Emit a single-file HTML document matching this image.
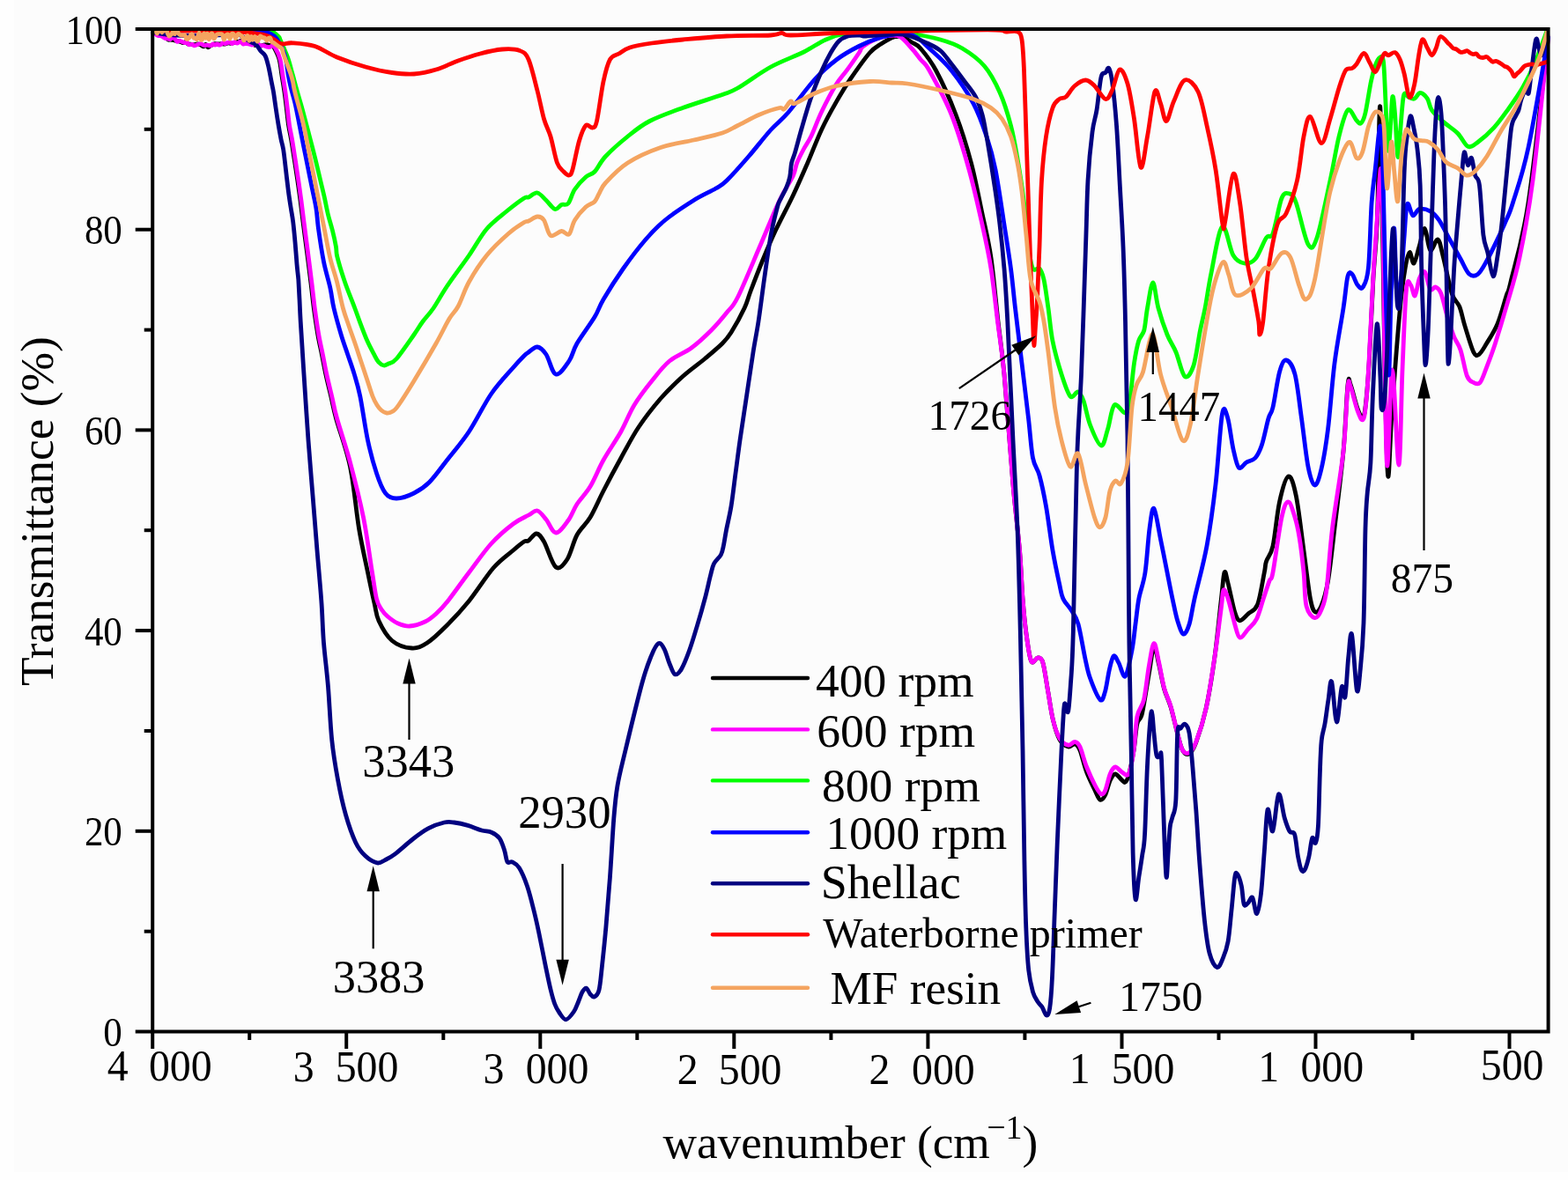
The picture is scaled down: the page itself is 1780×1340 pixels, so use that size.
<!DOCTYPE html><html><head><meta charset="utf-8"><title>FTIR spectra</title><style>html,body{margin:0;padding:0;background:#fefefe;overflow:hidden;}svg{display:block;}text{font-family:"Liberation Serif", "Times New Roman", serif;fill:#000;}</style></head><body>
<svg width="1780" height="1340" viewBox="0 0 1780 1340">
<rect x="0" y="0" width="1780" height="1340" fill="#fefefe"/>
<rect x="16" y="0" width="1764" height="1331" fill="#fcfcfc"/>
<defs><clipPath id="pc"><rect x="171" y="31.2" width="1589" height="1142"/></clipPath></defs><g clip-path="url(#pc)">
<path class="c" d="M173.0,37.0 C173.5,37.0 175.0,36.8 176.0,37.0 C177.0,37.2 178.0,37.9 179.1,38.5 C180.2,39.1 181.4,40.5 182.3,40.6 C183.2,40.7 183.5,38.8 184.5,38.9 C185.5,39.0 187.1,40.1 188.1,41.1 C189.1,42.1 189.7,44.2 190.6,44.9 C191.5,45.6 192.6,45.1 193.6,45.2 C194.6,45.3 195.6,45.2 196.5,45.4 C197.4,45.6 197.9,46.0 198.9,46.2 C199.9,46.4 201.4,46.3 202.6,46.6 C203.8,46.9 205.1,47.5 206.0,47.9 C206.9,48.2 207.3,48.8 208.2,48.7 C209.1,48.6 210.5,47.3 211.4,47.5 C212.3,47.7 212.7,49.7 213.5,50.1 C214.3,50.5 215.4,50.0 216.5,50.1 C217.6,50.2 219.0,50.8 220.2,50.8 C221.4,50.8 222.7,50.0 223.9,50.0 C225.1,50.0 226.3,50.2 227.5,50.7 C228.7,51.2 230.2,53.0 231.2,52.9 C232.2,52.8 232.7,50.1 233.5,50.3 C234.3,50.4 235.1,53.5 236.0,53.8 C236.9,54.1 238.0,52.4 238.9,51.9 C239.8,51.4 240.6,51.3 241.5,50.9 C242.4,50.5 243.3,49.9 244.3,49.7 C245.3,49.6 246.3,50.0 247.5,50.0 C248.7,50.0 249.9,49.7 251.2,49.7 C252.4,49.7 253.7,50.1 255.0,50.0 C256.3,49.9 257.8,49.0 258.9,48.9 C259.9,48.8 260.3,49.4 261.3,49.4 C262.3,49.4 264.0,49.1 265.1,48.8 C266.2,48.5 267.3,47.6 268.2,47.4 C269.1,47.2 269.8,47.6 270.7,47.4 C271.6,47.2 272.9,46.0 273.8,46.3 C274.7,46.6 275.0,49.1 276.0,49.4 C277.0,49.7 278.6,47.9 279.9,47.9 C281.1,47.9 282.5,49.4 283.5,49.6 C284.5,49.8 284.8,48.9 285.8,49.2 C286.8,49.5 288.4,51.3 289.3,51.5 C290.2,51.7 290.8,50.6 291.5,50.5 C292.2,50.4 292.9,50.8 293.7,51.1 C294.5,51.4 295.3,52.1 296.4,52.1 C297.5,52.1 298.9,51.1 300.2,50.9 C301.5,50.7 303.1,50.6 304.1,50.8 C305.1,51.0 305.7,52.3 306.4,52.3 C307.1,52.3 307.7,50.7 308.5,51.0 C309.3,51.3 310.0,51.6 311.4,54.3 C312.8,57.0 315.6,62.0 317.0,67.3 C318.4,72.6 319.0,79.7 320.0,86.0 C321.0,92.3 322.1,98.5 323.0,105.0 C323.9,111.5 324.8,118.8 325.5,125.0 C326.2,131.2 326.7,136.5 327.5,142.0 C328.3,147.5 329.4,151.7 330.5,158.0 C331.6,164.3 332.8,172.5 334.0,180.0 C335.2,187.5 336.3,195.0 337.5,203.0 C338.7,211.0 339.9,219.8 341.0,228.0 C342.1,236.2 343.0,244.2 344.0,252.0 C345.0,259.8 346.0,267.3 347.0,275.0 C348.0,282.7 349.0,290.2 350.0,298.0 C351.0,305.8 351.9,313.3 353.0,322.0 C354.1,330.7 355.0,340.3 356.3,350.0 C357.6,359.7 359.3,371.3 360.8,380.0 C362.3,388.7 363.8,394.8 365.3,402.2 C366.8,409.6 368.0,416.6 369.7,424.6 C371.4,432.6 373.7,441.6 375.7,450.0 C377.7,458.4 377.9,461.7 381.5,475.0 C385.1,488.3 393.2,509.2 397.5,530.0 C401.8,550.8 404.2,580.0 407.5,600.0 C410.8,620.0 414.6,635.8 417.5,650.0 C420.4,664.2 422.9,675.8 425.0,685.0 C427.1,694.2 426.7,697.9 430.0,705.0 C433.3,712.1 438.8,722.3 445.0,727.5 C451.2,732.7 460.8,735.6 467.5,736.0 C474.2,736.4 478.3,734.3 485.0,730.0 C491.7,725.7 499.7,717.8 507.5,710.0 C515.3,702.2 523.2,693.8 532.0,683.0 C540.8,672.2 551.6,654.7 560.0,645.0 C568.4,635.3 576.7,630.0 582.5,625.0 C588.3,620.0 592.1,616.8 595.0,615.0 C597.9,613.2 597.7,615.5 600.0,614.0 C602.3,612.5 606.1,605.8 609.0,606.0 C611.9,606.2 613.8,608.7 617.5,615.0 C621.2,621.3 626.6,640.7 631.0,644.0 C635.4,647.3 640.0,641.1 644.0,635.0 C648.0,628.9 650.7,615.4 655.0,607.5 C659.3,599.6 665.0,595.8 670.0,587.5 C675.0,579.2 679.2,568.8 685.0,557.5 C690.8,546.2 698.3,532.1 705.0,520.0 C711.7,507.9 717.5,496.2 725.0,485.0 C732.5,473.8 741.7,462.1 750.0,452.5 C758.3,442.9 766.7,435.0 775.0,427.5 C783.3,420.0 792.5,413.8 800.0,407.5 C807.5,401.2 815.0,395.0 820.0,390.0 C825.0,385.0 825.8,384.2 830.0,377.5 C834.2,370.8 841.3,357.9 845.0,350.0 C848.7,342.1 848.8,339.2 852.3,330.0 C855.8,320.8 861.3,306.4 866.0,295.0 C870.7,283.6 874.7,273.9 880.5,261.6 C886.3,249.3 894.6,234.1 900.6,221.3 C906.6,208.5 911.4,197.4 916.8,185.0 C922.2,172.6 927.5,158.1 932.9,146.7 C938.3,135.3 943.6,125.8 949.0,116.4 C954.4,107.0 958.7,99.6 965.1,90.2 C971.5,80.8 981.5,66.7 987.3,60.0 C993.1,53.3 995.4,53.0 1000.0,50.0 C1004.6,47.0 1010.8,43.3 1015.0,42.0 C1019.2,40.7 1021.7,41.0 1025.0,42.0 C1028.3,43.0 1031.7,45.8 1035.0,48.0 C1038.3,50.2 1040.4,49.7 1045.0,55.0 C1049.6,60.3 1055.8,67.5 1062.5,80.0 C1069.2,92.5 1078.3,112.5 1085.0,130.0 C1091.7,147.5 1097.5,166.2 1102.5,185.0 C1107.5,203.8 1111.2,224.6 1115.0,242.5 C1118.8,260.4 1122.0,272.1 1125.0,292.5 C1128.0,312.9 1130.5,342.9 1133.0,365.0 C1135.5,387.1 1137.2,394.2 1140.0,425.0 C1142.8,455.8 1147.1,516.7 1150.0,550.0 C1152.9,583.3 1155.7,603.3 1157.5,625.0 C1159.3,646.7 1159.8,664.5 1161.0,680.0 C1162.2,695.5 1163.2,706.2 1164.8,718.0 C1166.4,729.8 1168.4,745.9 1170.6,750.7 C1172.8,755.5 1176.0,746.6 1178.2,746.9 C1180.4,747.2 1182.0,746.2 1183.9,752.6 C1185.8,759.0 1187.8,774.3 1189.7,785.1 C1191.6,795.9 1193.2,808.4 1195.4,817.5 C1197.6,826.6 1200.1,834.9 1203.0,840.0 C1205.9,845.1 1209.7,847.2 1212.6,848.0 C1215.5,848.8 1218.0,844.3 1220.2,845.0 C1222.4,845.7 1223.8,846.7 1226.0,852.0 C1228.2,857.3 1230.7,869.3 1233.6,877.0 C1236.5,884.7 1240.7,892.8 1243.2,898.0 C1245.8,903.2 1247.0,907.5 1248.9,908.3 C1250.8,909.1 1252.7,906.7 1254.6,903.0 C1256.5,899.3 1258.4,890.0 1260.3,886.0 C1262.2,882.0 1263.9,879.0 1266.1,879.0 C1268.3,879.0 1271.8,884.5 1273.7,886.0 C1275.6,887.5 1276.2,889.2 1277.5,888.2 C1278.8,887.2 1279.8,886.0 1281.4,880.0 C1283.0,874.0 1285.5,861.6 1287.1,851.9 C1288.7,842.2 1289.3,829.0 1290.9,822.0 C1292.5,815.0 1294.4,819.4 1296.6,809.9 C1298.8,800.4 1302.1,777.5 1304.3,765.0 C1306.5,752.5 1308.1,736.7 1310.0,735.0 C1311.9,733.3 1313.8,747.2 1315.7,755.0 C1317.6,762.8 1319.3,774.0 1321.5,782.0 C1323.7,790.0 1326.6,794.5 1329.1,803.0 C1331.6,811.5 1334.5,824.8 1336.7,833.0 C1338.9,841.2 1340.3,848.2 1342.5,852.0 C1344.7,855.8 1347.5,857.5 1350.1,856.0 C1352.6,854.5 1354.6,851.7 1357.8,843.0 C1361.0,834.3 1365.7,820.0 1369.2,804.0 C1372.7,788.0 1375.9,767.7 1378.8,747.0 C1381.7,726.3 1384.5,696.2 1386.4,680.0 C1388.3,663.8 1388.7,653.0 1390.0,650.0 C1391.3,647.0 1392.0,654.5 1394.0,662.0 C1396.0,669.5 1399.5,687.9 1401.7,695.0 C1403.9,702.1 1404.9,704.5 1407.4,704.8 C1410.0,705.1 1413.6,700.1 1417.0,697.0 C1420.4,693.9 1424.5,694.1 1427.6,686.3 C1430.6,678.5 1433.6,658.1 1435.3,650.0 C1437.0,641.9 1435.9,642.5 1437.5,637.5 C1439.1,632.5 1442.5,631.2 1445.0,620.0 C1447.5,608.8 1449.6,583.2 1452.5,570.0 C1455.4,556.8 1459.4,542.2 1462.5,541.0 C1465.6,539.8 1468.3,548.5 1471.2,562.5 C1474.2,576.5 1477.3,605.4 1480.0,625.0 C1482.7,644.6 1485.3,668.3 1487.5,680.0 C1489.7,691.7 1490.9,693.7 1493.0,695.0 C1495.1,696.3 1497.6,693.8 1500.0,688.0 C1502.4,682.2 1505.0,674.7 1507.5,660.0 C1510.0,645.3 1512.1,624.6 1515.0,600.0 C1517.9,575.4 1522.5,539.7 1525.0,512.5 C1527.5,485.3 1528.6,449.6 1530.0,437.0 C1531.4,424.4 1531.4,432.5 1533.2,437.0 C1535.0,441.5 1538.8,457.8 1541.1,464.0 C1543.4,470.2 1545.4,475.0 1547.0,474.0 C1548.6,473.0 1549.3,468.7 1550.5,458.0 C1551.7,447.3 1552.9,433.5 1554.3,410.0 C1555.7,386.5 1557.4,344.0 1558.9,317.0 C1560.4,290.0 1562.2,280.0 1563.5,248.0 C1564.8,216.0 1565.6,96.3 1567.0,125.0 C1568.4,153.7 1570.6,350.8 1572.0,420.0 C1573.4,489.2 1574.3,532.0 1575.6,540.3 C1576.9,548.6 1577.8,501.2 1580.0,470.0 C1582.2,438.8 1586.5,380.8 1589.1,353.1 C1591.6,325.4 1593.4,315.0 1595.3,303.9 C1597.2,292.8 1598.6,287.4 1600.2,286.6 C1601.8,285.8 1603.2,300.2 1605.1,299.0 C1606.9,297.8 1609.2,285.8 1611.3,279.2 C1613.3,272.6 1615.4,258.7 1617.4,259.5 C1619.5,260.3 1621.1,282.1 1623.6,284.2 C1626.1,286.3 1629.8,270.7 1632.2,271.9 C1634.7,273.1 1635.6,281.4 1638.3,291.6 C1641.0,301.9 1645.1,324.0 1648.2,333.4 C1651.3,342.8 1654.3,342.0 1656.8,348.2 C1659.3,354.4 1660.3,361.8 1663.0,370.4 C1665.7,379.0 1670.1,394.6 1672.8,399.9 C1675.5,405.2 1676.5,404.0 1679.0,402.4 C1681.5,400.8 1684.1,395.8 1687.6,390.0 C1691.1,384.2 1696.2,376.9 1699.9,367.9 C1703.6,358.9 1707.5,343.9 1710.0,335.9 C1712.5,327.9 1710.8,337.6 1715.0,320.0 C1719.2,302.4 1727.9,276.2 1735.0,230.0 C1742.1,183.8 1753.8,73.8 1757.5,42.5" fill="none" stroke="#000000" stroke-width="4.8" stroke-linejoin="round" stroke-linecap="round"/>
<path class="c" d="M173.0,37.0 C173.5,37.2 174.9,37.9 176.0,38.5 C177.1,39.1 178.2,40.0 179.4,40.4 C180.6,40.8 181.9,40.5 183.2,41.0 C184.5,41.5 185.9,42.9 187.0,43.4 C188.1,43.9 188.9,43.8 189.9,44.0 C190.9,44.2 192.3,44.8 193.2,44.6 C194.1,44.4 194.7,43.1 195.5,43.0 C196.3,42.9 197.1,43.0 198.0,43.7 C198.9,44.4 200.2,46.8 201.2,47.3 C202.1,47.8 202.7,46.3 203.7,46.4 C204.7,46.5 206.4,47.4 207.4,47.8 C208.4,48.2 209.0,48.7 209.8,48.7 C210.6,48.8 211.4,47.8 212.2,48.1 C213.0,48.5 213.5,50.4 214.5,50.8 C215.5,51.2 217.2,50.1 218.2,50.3 C219.2,50.5 219.6,51.9 220.6,51.9 C221.6,51.9 223.1,50.9 224.3,50.5 C225.6,50.1 226.9,49.5 228.1,49.7 C229.3,49.9 230.3,51.3 231.5,51.5 C232.7,51.7 234.0,51.0 235.3,51.1 C236.6,51.2 238.0,52.1 239.1,51.9 C240.2,51.7 240.9,50.1 241.7,50.0 C242.5,49.9 243.3,51.0 244.1,51.0 C244.9,51.0 245.4,49.8 246.3,49.8 C247.2,49.8 248.4,51.4 249.5,51.2 C250.6,51.0 251.9,49.1 252.9,48.8 C253.9,48.5 254.6,49.6 255.5,49.5 C256.4,49.4 257.5,48.6 258.5,48.4 C259.5,48.2 260.5,48.0 261.4,48.2 C262.2,48.4 262.9,49.6 263.6,49.6 C264.3,49.6 264.8,48.1 265.8,48.0 C266.8,47.9 268.2,49.2 269.4,49.1 C270.6,49.0 271.8,47.1 272.9,47.2 C274.0,47.4 275.2,49.6 276.1,50.0 C277.0,50.4 277.3,49.4 278.3,49.4 C279.3,49.4 280.9,49.6 282.1,49.9 C283.3,50.2 284.3,51.0 285.5,51.0 C286.7,51.0 288.2,50.1 289.3,49.8 C290.4,49.5 291.1,49.0 292.1,49.3 C293.2,49.6 294.5,51.4 295.6,51.8 C296.8,52.2 297.8,51.4 299.0,51.6 C300.2,51.8 301.4,52.8 302.7,53.1 C303.9,53.4 305.4,53.6 306.5,53.4 C307.6,53.2 308.2,51.9 309.2,52.0 C310.2,52.1 310.9,51.8 312.4,54.3 C313.9,56.8 316.6,62.0 318.0,67.3 C319.4,72.6 320.0,79.7 321.0,86.0 C322.0,92.3 323.1,98.5 324.0,105.0 C324.9,111.5 325.8,118.8 326.5,125.0 C327.2,131.2 327.7,136.5 328.5,142.0 C329.3,147.5 330.4,151.7 331.5,158.0 C332.6,164.3 333.8,172.5 335.0,180.0 C336.2,187.5 337.3,195.0 338.5,203.0 C339.7,211.0 340.9,219.8 342.0,228.0 C343.1,236.2 344.0,244.2 345.0,252.0 C346.0,259.8 347.0,267.3 348.0,275.0 C349.0,282.7 350.0,290.2 351.0,298.0 C352.0,305.8 352.9,313.3 354.0,322.0 C355.1,330.7 356.0,340.3 357.3,350.0 C358.6,359.7 360.3,371.3 361.8,380.0 C363.3,388.7 364.8,394.8 366.3,402.2 C367.8,409.6 369.0,416.6 370.7,424.6 C372.4,432.6 374.7,441.6 376.7,450.0 C378.7,458.4 379.0,462.5 382.5,475.0 C386.0,487.5 392.5,506.2 397.5,525.0 C402.5,543.8 408.3,566.7 412.5,587.5 C416.7,608.3 420.0,634.6 422.5,650.0 C425.0,665.4 425.8,673.0 427.5,680.0 C429.2,687.0 430.9,688.7 433.0,692.0 C435.1,695.3 436.8,697.3 440.0,700.0 C443.2,702.7 447.8,706.2 452.0,708.0 C456.2,709.8 459.9,711.3 465.0,711.0 C470.1,710.7 477.5,708.3 482.5,706.0 C487.5,703.7 490.8,700.8 495.0,697.0 C499.2,693.2 501.8,690.8 508.0,683.0 C514.2,675.2 524.2,660.9 532.5,650.0 C540.8,639.1 549.2,626.7 557.5,617.5 C565.8,608.3 575.4,600.4 582.5,595.0 C589.6,589.6 595.4,587.5 600.0,585.0 C604.6,582.5 606.7,579.2 610.0,580.0 C613.3,580.8 616.5,585.8 620.0,590.0 C623.5,594.2 626.8,604.8 631.0,605.0 C635.2,605.2 641.0,596.4 645.0,591.0 C649.0,585.6 650.8,578.9 655.0,572.5 C659.2,566.1 665.0,560.8 670.0,552.5 C675.0,544.2 679.2,532.9 685.0,522.5 C690.8,512.1 699.2,500.4 705.0,490.0 C710.8,479.6 714.2,469.6 720.0,460.0 C725.8,450.4 733.3,440.8 740.0,432.5 C746.7,424.2 752.5,416.2 760.0,410.0 C767.5,403.8 777.1,400.8 785.0,395.0 C792.9,389.2 800.8,381.7 807.5,375.0 C814.2,368.3 820.0,361.2 825.0,355.0 C830.0,348.8 831.2,350.0 837.5,337.5 C843.8,325.0 855.3,296.7 862.5,280.0 C869.7,263.3 875.9,247.7 880.5,237.4 C885.1,227.1 886.6,224.4 890.0,218.0 C893.4,211.6 898.1,204.5 900.6,199.0 C903.1,193.5 902.8,189.8 904.7,185.0 C906.6,180.2 909.3,175.1 912.0,170.0 C914.7,164.9 917.3,161.9 920.8,154.7 C924.3,147.4 928.2,136.2 932.9,126.5 C937.6,116.8 944.3,104.0 949.0,96.3 C953.7,88.6 956.7,86.2 961.1,80.2 C965.5,74.2 972.1,64.6 975.2,60.0 C978.4,55.4 975.9,55.4 980.0,52.5 C984.1,49.6 993.3,44.4 1000.0,42.5 C1006.7,40.6 1014.2,38.9 1020.0,41.0 C1025.8,43.1 1030.8,50.6 1035.0,55.0 C1039.2,59.4 1041.7,63.3 1045.0,67.5 C1048.3,71.7 1049.2,69.6 1055.0,80.0 C1060.8,90.4 1072.5,111.2 1080.0,130.0 C1087.5,148.8 1094.2,171.7 1100.0,192.5 C1105.8,213.3 1110.8,236.2 1115.0,255.0 C1119.2,273.8 1122.1,286.7 1125.0,305.0 C1127.9,323.3 1130.0,345.0 1132.5,365.0 C1135.0,385.0 1137.1,394.2 1140.0,425.0 C1142.9,455.8 1147.1,516.7 1150.0,550.0 C1152.9,583.3 1155.7,603.3 1157.5,625.0 C1159.3,646.7 1159.8,664.5 1161.0,680.0 C1162.2,695.5 1163.2,706.4 1164.8,718.2 C1166.4,730.0 1168.4,745.9 1170.6,750.7 C1172.8,755.5 1176.0,746.6 1178.2,746.9 C1180.4,747.2 1182.0,746.2 1183.9,752.6 C1185.8,759.0 1187.8,774.3 1189.7,785.1 C1191.6,795.9 1193.2,808.6 1195.4,817.5 C1197.6,826.4 1200.1,833.8 1203.0,838.6 C1205.9,843.4 1209.7,845.6 1212.6,846.2 C1215.5,846.8 1218.0,842.1 1220.2,842.4 C1222.4,842.7 1223.8,843.3 1226.0,848.1 C1228.2,852.9 1230.7,863.7 1233.6,871.0 C1236.5,878.3 1240.5,886.9 1243.2,892.0 C1245.9,897.1 1247.9,900.6 1249.8,901.6 C1251.7,902.6 1252.8,901.6 1254.6,897.8 C1256.3,894.0 1258.4,883.2 1260.3,878.7 C1262.2,874.2 1263.9,871.3 1266.1,871.0 C1268.3,870.7 1271.2,875.5 1273.7,876.8 C1276.2,878.1 1279.2,882.9 1281.4,878.7 C1283.6,874.6 1285.5,862.7 1287.1,851.9 C1288.7,841.1 1289.0,823.2 1290.9,813.7 C1292.8,804.2 1296.3,804.2 1298.5,794.6 C1300.7,785.0 1302.4,767.1 1304.3,756.4 C1306.2,745.7 1308.1,731.2 1310.0,730.6 C1311.9,730.0 1313.8,744.2 1315.7,752.6 C1317.6,761.0 1319.3,772.9 1321.5,781.2 C1323.7,789.5 1326.6,793.7 1329.1,802.3 C1331.6,810.9 1334.5,824.5 1336.7,832.8 C1338.9,841.1 1340.3,848.2 1342.5,851.9 C1344.7,855.6 1347.5,856.4 1350.1,854.8 C1352.6,853.2 1354.6,850.8 1357.8,842.4 C1361.0,834.0 1365.7,820.1 1369.2,804.2 C1372.7,788.3 1375.9,766.0 1378.8,746.9 C1381.7,727.8 1384.7,702.4 1386.4,689.6 C1388.1,676.8 1387.7,671.6 1389.0,670.0 C1390.3,668.4 1392.0,673.5 1394.1,680.0 C1396.2,686.5 1399.5,701.4 1401.7,708.7 C1403.9,716.0 1404.9,723.0 1407.4,723.9 C1410.0,724.8 1413.8,717.9 1417.0,714.4 C1420.2,710.9 1423.6,708.6 1426.5,702.9 C1429.4,697.2 1431.8,687.2 1434.2,680.0 C1436.6,672.8 1439.2,664.6 1441.0,659.6 C1442.8,654.6 1442.7,662.0 1445.0,650.0 C1447.3,638.0 1452.1,600.8 1455.0,587.5 C1457.9,574.2 1460.0,570.0 1462.5,570.0 C1465.0,570.0 1467.9,580.8 1470.0,587.5 C1472.1,594.2 1473.3,599.6 1475.0,610.0 C1476.7,620.4 1478.7,637.0 1480.0,650.0 C1481.3,663.0 1480.9,679.6 1483.0,688.2 C1485.1,696.8 1489.7,701.0 1492.6,701.6 C1495.5,702.2 1498.0,697.4 1500.2,692.0 C1502.4,686.6 1504.0,684.4 1506.0,669.1 C1508.0,653.8 1509.3,626.1 1512.5,600.0 C1515.7,573.9 1522.1,539.3 1525.0,512.5 C1527.9,485.7 1528.6,451.5 1530.0,439.3 C1531.4,427.1 1531.4,434.7 1533.2,439.2 C1535.0,443.7 1538.8,460.1 1541.1,466.4 C1543.4,472.6 1545.4,477.8 1547.0,476.7 C1548.6,475.6 1549.3,470.8 1550.5,460.0 C1551.7,449.2 1552.7,435.4 1554.0,412.0 C1555.3,388.6 1557.1,346.4 1558.6,319.4 C1560.1,292.4 1562.0,269.1 1563.2,250.0 C1564.4,230.9 1565.2,214.2 1566.0,205.0 C1566.8,195.8 1567.3,185.8 1568.0,195.0 C1568.7,204.2 1569.0,204.9 1570.0,260.0 C1571.0,315.1 1572.5,498.8 1574.3,525.5 C1576.0,552.2 1578.2,419.6 1580.5,420.0 C1582.8,420.4 1586.0,528.0 1587.9,528.0 C1589.8,528.0 1590.6,453.2 1592.0,420.0 C1593.4,386.8 1594.9,344.6 1596.5,328.5 C1598.1,312.4 1599.8,322.4 1601.4,323.6 C1603.0,324.8 1604.7,337.1 1606.3,335.9 C1607.9,334.7 1609.4,320.7 1611.3,316.2 C1613.2,311.7 1615.4,306.8 1617.4,308.8 C1619.5,310.9 1621.5,325.6 1623.6,328.5 C1625.6,331.4 1627.7,325.2 1629.7,326.0 C1631.8,326.8 1633.6,327.6 1635.9,333.4 C1638.2,339.1 1640.8,352.3 1643.3,360.5 C1645.8,368.7 1648.2,376.6 1650.7,382.7 C1653.2,388.8 1655.5,390.0 1658.0,397.4 C1660.5,404.8 1662.9,420.8 1665.4,427.0 C1667.9,433.2 1670.3,433.2 1672.8,434.4 C1675.3,435.6 1677.7,437.3 1680.2,434.4 C1682.7,431.5 1684.7,424.5 1687.6,417.1 C1690.5,409.7 1693.7,401.5 1697.4,390.0 C1701.1,378.5 1705.4,364.4 1710.0,348.2 C1714.6,331.9 1720.0,316.4 1725.0,292.5 C1730.0,268.6 1734.6,246.7 1740.0,205.0 C1745.4,163.3 1754.6,69.6 1757.5,42.5" fill="none" stroke="#ff00ff" stroke-width="4.8" stroke-linejoin="round" stroke-linecap="round"/>
<path class="c" d="M173.0,33.0 C185.8,33.2 228.8,33.8 250.0,34.0 C271.2,34.2 290.6,33.9 300.0,34.0 C306.5,34.1 304.7,34.0 306.5,34.5 C308.3,35.0 309.3,35.8 311.0,37.0 C312.7,38.2 315.4,40.7 316.6,42.0 C317.8,43.3 317.1,42.9 318.0,44.9 C318.9,46.9 320.4,50.3 322.0,54.0 C323.6,57.7 325.6,62.3 327.3,67.3 C329.0,72.3 330.4,78.4 332.0,84.0 C333.6,89.6 335.0,95.2 336.6,100.9 C338.2,106.6 339.9,112.4 341.5,118.0 C343.1,123.6 344.5,128.8 346.0,134.5 C347.5,140.2 349.1,146.1 350.6,152.0 C352.2,157.9 353.7,163.8 355.3,170.0 C356.9,176.2 358.6,183.0 360.0,189.0 C361.4,195.0 362.6,200.0 364.0,206.0 C365.4,212.0 367.1,218.7 368.5,225.0 C369.9,231.3 371.0,237.8 372.5,244.0 C374.0,250.2 376.0,256.0 377.5,262.0 C379.0,268.0 380.6,275.4 381.4,280.0 C382.2,284.6 381.4,283.3 382.4,289.9 C384.0,296.5 387.9,309.7 391.3,319.7 C394.7,329.7 399.8,341.8 402.8,350.0 C405.9,358.2 407.2,362.5 409.6,368.7 C412.0,374.9 414.5,381.7 417.0,387.3 C419.5,392.9 422.4,398.2 424.5,402.2 C426.6,406.2 427.8,409.1 429.7,411.2 C431.6,413.3 433.8,414.7 435.7,415.0 C437.6,415.3 438.6,414.2 441.0,413.0 C443.4,411.8 445.2,413.0 450.0,407.5 C454.8,402.0 465.0,387.1 470.0,380.0 C475.0,372.9 476.3,370.0 480.0,365.0 C483.7,360.0 487.4,356.7 492.0,350.0 C496.6,343.3 500.8,335.0 507.5,325.0 C514.2,315.0 525.0,300.8 532.5,290.0 C540.0,279.2 545.4,268.3 552.5,260.0 C559.6,251.7 567.9,245.8 575.0,240.0 C582.1,234.2 590.8,227.7 595.0,225.0 C599.2,222.3 597.5,225.0 600.0,224.0 C602.5,223.0 606.7,218.4 610.0,219.0 C613.3,219.6 616.7,224.4 620.0,227.5 C623.3,230.6 627.1,236.7 630.0,237.5 C632.9,238.3 635.0,233.6 637.5,232.5 C640.0,231.4 642.5,233.9 645.0,231.0 C647.5,228.1 649.2,220.0 652.5,215.0 C655.8,210.0 661.2,204.3 665.0,201.0 C668.8,197.7 671.2,198.9 675.0,195.0 C678.8,191.1 681.2,184.2 687.5,177.5 C693.8,170.8 704.2,161.7 712.5,155.0 C720.8,148.3 727.1,142.9 737.5,137.5 C747.9,132.1 761.2,127.5 775.0,122.5 C788.8,117.5 809.6,111.2 820.0,107.5 C830.4,103.8 828.3,105.2 837.5,100.0 C846.7,94.8 862.5,82.8 875.0,76.0 C887.5,69.2 902.1,64.2 912.5,59.0 C922.9,53.8 929.2,48.6 937.5,45.0 C945.8,41.4 952.1,39.2 962.5,37.5 C972.9,35.8 988.8,35.0 1000.0,35.0 C1011.2,35.0 1018.8,35.8 1030.0,37.5 C1041.2,39.2 1057.1,42.1 1067.5,45.0 C1077.9,47.9 1084.2,50.0 1092.5,55.0 C1100.8,60.0 1110.4,66.7 1117.5,75.0 C1124.6,83.3 1130.0,93.8 1135.0,105.0 C1140.0,116.2 1144.2,130.0 1147.5,142.5 C1150.8,155.0 1152.5,165.4 1155.0,180.0 C1157.5,194.6 1160.4,213.3 1162.5,230.0 C1164.6,246.7 1165.8,267.5 1167.5,280.0 C1169.2,292.5 1170.4,300.8 1172.5,305.0 C1174.6,309.2 1177.9,302.9 1180.0,305.0 C1182.1,307.1 1183.3,310.0 1185.0,317.5 C1186.7,325.0 1188.3,338.3 1190.0,350.0 C1191.7,361.7 1192.5,375.0 1195.0,387.5 C1197.5,400.0 1201.7,414.6 1205.0,425.0 C1208.3,435.4 1211.9,446.7 1215.0,450.0 C1218.1,453.3 1221.2,444.2 1223.8,445.0 C1226.2,445.8 1227.7,448.8 1230.0,455.0 C1232.3,461.2 1234.2,474.0 1237.5,482.5 C1240.8,491.0 1246.7,505.2 1250.0,506.0 C1253.3,506.8 1255.0,495.2 1257.5,487.5 C1260.0,479.8 1261.7,463.1 1265.0,460.0 C1268.3,456.9 1274.6,469.8 1277.5,469.0 C1280.4,468.2 1280.8,464.4 1282.5,455.0 C1284.2,445.6 1285.8,423.8 1287.5,412.5 C1289.2,401.2 1290.6,393.8 1292.5,387.5 C1294.4,381.2 1297.1,381.2 1298.8,375.0 C1300.4,368.8 1300.8,359.0 1302.5,350.0 C1304.2,341.0 1306.7,321.0 1308.8,321.0 C1310.8,321.0 1312.3,340.2 1315.0,350.0 C1317.7,359.8 1321.7,371.7 1325.0,380.0 C1328.3,388.3 1331.7,392.1 1335.0,400.0 C1338.3,407.9 1341.7,425.0 1345.0,427.5 C1348.3,430.0 1352.1,423.8 1355.0,415.0 C1357.9,406.2 1360.3,385.8 1362.5,375.0 C1364.7,364.2 1365.9,360.8 1368.0,350.0 C1370.1,339.2 1371.8,325.4 1375.0,310.0 C1378.2,294.6 1383.3,260.8 1387.5,257.5 C1391.7,254.2 1395.8,283.1 1400.0,290.0 C1404.2,296.9 1408.3,298.3 1412.5,299.0 C1416.7,299.7 1420.8,298.8 1425.0,294.0 C1429.2,289.2 1434.2,274.8 1437.5,270.0 C1440.8,265.2 1442.1,272.5 1445.0,265.0 C1447.9,257.5 1451.9,232.5 1455.0,225.0 C1458.1,217.5 1461.0,219.2 1463.8,220.0 C1466.5,220.8 1467.7,220.4 1471.2,230.0 C1474.8,239.6 1481.0,270.8 1485.0,277.5 C1489.0,284.2 1490.8,282.1 1495.0,270.0 C1499.2,257.9 1505.8,224.2 1510.0,205.0 C1514.2,185.8 1516.7,168.3 1520.0,155.0 C1523.3,141.7 1526.7,128.1 1530.0,125.0 C1533.3,122.0 1537.5,134.2 1540.0,136.7 C1542.5,139.2 1543.2,141.4 1544.9,140.0 C1546.6,138.6 1548.0,136.4 1549.9,128.5 C1551.8,120.6 1554.5,101.4 1556.4,92.4 C1558.3,83.4 1559.7,78.8 1561.3,74.3 C1562.9,69.8 1564.8,66.1 1566.3,65.3 C1567.8,64.5 1569.3,61.6 1570.4,69.4 C1571.5,77.2 1572.0,95.4 1572.8,112.1 C1573.6,128.8 1574.5,162.7 1575.3,169.5 C1576.1,176.3 1576.9,162.9 1577.8,153.1 C1578.7,143.2 1579.8,114.5 1580.7,110.4 C1581.7,106.3 1582.5,117.3 1583.5,128.5 C1584.5,139.7 1585.8,173.7 1586.8,177.8 C1587.8,181.9 1588.2,164.6 1589.3,153.1 C1590.4,141.6 1591.8,115.9 1593.4,108.8 C1595.0,101.7 1597.0,109.9 1599.1,110.4 C1601.1,111.0 1603.5,112.9 1605.7,112.1 C1607.9,111.3 1609.8,105.5 1612.2,105.5 C1614.7,105.5 1618.2,108.8 1620.4,112.1 C1622.6,115.4 1622.4,120.8 1625.4,125.2 C1628.4,129.6 1633.6,134.0 1638.5,138.4 C1643.4,142.8 1650.2,146.8 1654.9,151.5 C1659.6,156.2 1662.6,164.7 1666.4,166.3 C1670.2,167.9 1673.0,164.9 1677.9,161.3 C1682.8,157.7 1690.2,151.2 1696.0,144.9 C1701.8,138.6 1706.9,131.2 1712.4,123.6 C1717.9,115.9 1723.9,107.5 1728.8,99.0 C1733.7,90.5 1737.2,83.7 1741.9,72.7 C1746.6,61.8 1754.2,39.9 1756.7,33.3" fill="none" stroke="#00ff00" stroke-width="4.8" stroke-linejoin="round" stroke-linecap="round"/>
<path class="c" d="M173.0,33.5 C185.8,33.5 230.5,33.4 250.0,33.5 C269.5,33.6 281.4,33.6 290.0,34.0 C298.6,34.4 297.9,34.8 301.5,36.0 C305.1,37.2 309.0,39.0 311.5,41.0 C314.0,43.0 314.9,45.2 316.6,48.0 C318.3,50.8 320.4,54.6 321.7,58.0 C323.0,61.4 323.8,64.1 324.7,68.4 C325.6,72.7 326.1,78.7 327.0,84.0 C327.9,89.3 328.9,94.3 330.3,100.0 C331.7,105.7 333.5,110.9 335.1,117.9 C336.7,124.9 338.3,133.8 339.9,141.8 C341.5,149.8 343.0,157.7 344.6,165.7 C346.2,173.7 347.8,181.6 349.4,189.6 C351.0,197.6 352.6,205.4 354.2,213.4 C355.8,221.4 357.8,229.5 359.0,237.3 C360.2,245.1 360.1,250.0 361.5,260.0 C362.9,270.0 365.3,286.1 367.5,297.3 C369.7,308.5 373.0,318.4 374.9,327.2 C376.8,336.0 376.9,341.2 379.0,350.0 C381.1,358.8 384.6,371.3 387.2,380.0 C389.8,388.7 392.1,394.8 394.6,402.2 C397.1,409.6 399.7,416.6 402.1,424.6 C404.5,432.6 406.2,437.4 408.8,450.0 C411.4,462.6 414.4,485.4 417.5,500.0 C420.6,514.6 424.2,527.5 427.5,537.5 C430.8,547.5 433.8,555.2 437.5,560.0 C441.2,564.8 444.6,566.0 450.0,566.0 C455.4,566.0 463.8,563.1 470.0,560.0 C476.2,556.9 481.2,553.8 487.5,547.5 C493.8,541.2 500.0,532.1 507.5,522.5 C515.0,512.9 524.2,502.5 532.5,490.0 C540.8,477.5 549.2,459.6 557.5,447.5 C565.8,435.4 576.2,424.8 582.5,417.5 C588.8,410.2 592.1,406.9 595.0,404.0 C597.9,401.1 597.5,401.7 600.0,400.0 C602.5,398.3 606.7,393.6 610.0,394.0 C613.3,394.4 616.5,397.3 620.0,402.5 C623.5,407.7 626.7,423.8 631.0,425.0 C635.3,426.2 642.0,415.8 646.0,410.0 C650.0,404.2 650.2,398.3 655.0,390.0 C659.8,381.7 670.0,368.3 675.0,360.0 C680.0,351.7 679.6,349.2 685.0,340.0 C690.4,330.8 699.6,316.2 707.5,305.0 C715.4,293.8 724.6,281.7 732.5,272.5 C740.4,263.3 745.8,257.5 755.0,250.0 C764.2,242.5 777.9,233.5 787.5,227.5 C797.1,221.5 806.2,217.8 812.5,214.0 C818.8,210.2 818.8,211.1 825.0,205.0 C831.2,198.9 841.7,187.1 850.0,177.5 C858.3,167.9 867.5,155.8 875.0,147.5 C882.5,139.2 886.7,137.1 895.0,127.5 C903.3,117.9 915.8,100.0 925.0,90.0 C934.2,80.0 941.7,73.8 950.0,67.5 C958.3,61.2 966.7,56.7 975.0,52.5 C983.3,48.3 991.7,44.9 1000.0,42.5 C1008.3,40.1 1018.3,38.1 1025.0,38.0 C1031.7,37.9 1035.0,39.2 1040.0,42.0 C1045.0,44.8 1048.3,48.7 1055.0,55.0 C1061.7,61.3 1071.7,69.6 1080.0,80.0 C1088.3,90.4 1098.3,105.0 1105.0,117.5 C1111.7,130.0 1115.8,142.5 1120.0,155.0 C1124.2,167.5 1126.7,175.8 1130.0,192.5 C1133.3,209.2 1137.1,236.2 1140.0,255.0 C1142.9,273.8 1145.4,289.2 1147.5,305.0 C1149.6,320.8 1150.4,332.1 1152.5,350.0 C1154.6,367.9 1157.5,391.7 1160.0,412.5 C1162.5,433.3 1165.4,457.1 1167.5,475.0 C1169.6,492.9 1170.4,509.2 1172.5,520.0 C1174.6,530.8 1177.5,530.8 1180.0,540.0 C1182.5,549.2 1185.0,560.8 1187.5,575.0 C1190.0,589.2 1192.5,610.4 1195.0,625.0 C1197.5,639.6 1200.5,653.3 1202.5,662.5 C1204.5,671.7 1204.6,674.9 1206.9,680.0 C1209.2,685.1 1213.6,688.6 1216.4,693.4 C1219.2,698.2 1221.5,699.8 1224.0,708.7 C1226.5,717.6 1229.5,736.7 1231.7,746.9 C1233.9,757.1 1234.5,761.8 1237.4,769.8 C1240.3,777.8 1246.0,792.0 1248.9,794.6 C1251.8,797.2 1252.8,790.8 1254.6,785.1 C1256.3,779.4 1257.8,766.9 1259.4,760.2 C1261.0,753.5 1262.5,746.3 1264.2,745.0 C1266.0,743.7 1267.7,748.8 1269.9,752.6 C1272.1,756.4 1275.0,770.5 1277.5,767.9 C1280.0,765.3 1283.3,747.2 1285.2,737.3 C1287.1,727.4 1287.7,718.2 1289.0,708.7 C1290.3,699.2 1291.0,689.8 1292.8,680.0 C1294.6,670.2 1298.0,663.3 1300.0,650.0 C1302.0,636.7 1303.3,612.1 1305.0,600.0 C1306.7,587.9 1307.9,575.4 1310.0,577.5 C1312.1,579.6 1315.0,600.4 1317.5,612.5 C1320.0,624.6 1322.8,638.8 1325.0,650.0 C1327.2,661.2 1329.0,670.9 1331.0,680.0 C1333.0,689.1 1334.6,698.1 1336.7,704.8 C1338.8,711.5 1341.2,719.5 1343.4,720.1 C1345.6,720.8 1348.0,715.4 1350.1,708.7 C1352.2,702.0 1352.7,694.8 1356.0,680.0 C1359.3,665.2 1366.0,641.7 1370.0,620.0 C1374.0,598.3 1377.1,575.0 1380.0,550.0 C1382.9,525.0 1385.2,482.5 1387.5,470.0 C1389.8,457.5 1391.7,468.3 1393.8,475.0 C1395.8,481.7 1397.9,500.7 1400.0,510.0 C1402.1,519.3 1403.8,528.5 1406.2,531.0 C1408.8,533.5 1411.9,526.8 1415.0,525.0 C1418.1,523.2 1422.1,523.3 1425.0,520.0 C1427.9,516.7 1430.0,512.5 1432.5,505.0 C1435.0,497.5 1437.9,482.1 1440.0,475.0 C1442.1,467.9 1442.9,471.2 1445.0,462.5 C1447.1,453.8 1450.0,431.4 1452.5,422.5 C1455.0,413.6 1457.1,408.6 1460.0,409.0 C1462.9,409.4 1467.1,414.0 1470.0,425.0 C1472.9,436.0 1475.0,457.5 1477.5,475.0 C1480.0,492.5 1482.5,517.3 1485.0,530.0 C1487.5,542.7 1490.0,550.6 1492.5,551.0 C1495.0,551.4 1497.5,543.1 1500.0,532.5 C1502.5,521.9 1505.0,507.5 1507.5,487.5 C1510.0,467.5 1512.1,435.4 1515.0,412.5 C1517.9,389.6 1522.5,366.5 1525.0,350.0 C1527.5,333.5 1528.3,320.1 1530.0,313.7 C1531.7,307.2 1533.1,309.6 1534.9,311.3 C1536.8,313.0 1539.0,321.2 1541.1,323.6 C1543.1,326.1 1545.2,329.3 1547.2,326.0 C1549.2,322.7 1551.8,319.9 1553.4,303.9 C1555.1,287.9 1555.8,248.3 1557.1,230.0 C1558.4,211.7 1559.3,208.5 1561.0,194.0 C1562.7,179.5 1565.5,142.0 1567.0,143.0 C1568.5,144.0 1569.0,168.8 1570.0,200.0 C1571.0,231.2 1571.9,292.3 1573.0,330.0 C1574.1,367.7 1575.5,424.3 1576.5,426.0 C1577.5,427.7 1578.0,367.8 1579.0,340.0 C1580.0,312.2 1581.4,260.7 1582.5,259.0 C1583.6,257.3 1584.2,319.8 1585.5,330.0 C1586.8,340.2 1588.6,330.0 1590.0,320.0 C1591.4,310.0 1592.8,284.7 1594.0,270.0 C1595.2,255.3 1595.8,236.2 1597.5,232.0 C1599.2,227.8 1601.6,243.9 1603.9,244.8 C1606.2,245.7 1608.0,238.2 1611.3,237.4 C1614.6,236.6 1619.9,237.8 1623.6,239.8 C1627.3,241.9 1629.7,244.3 1633.4,249.7 C1637.1,255.0 1641.6,264.5 1645.7,271.9 C1649.8,279.3 1654.3,287.4 1658.0,294.0 C1661.7,300.6 1664.6,308.4 1667.9,311.3 C1671.2,314.2 1674.4,313.8 1677.7,311.3 C1681.0,308.8 1683.9,303.1 1687.6,296.5 C1691.3,289.9 1696.2,279.7 1699.9,271.9 C1703.6,264.1 1707.1,256.7 1710.0,249.7 C1712.9,242.7 1713.3,243.7 1717.5,230.0 C1721.7,216.3 1728.3,198.8 1735.0,167.5 C1741.7,136.2 1753.8,63.3 1757.5,42.5" fill="none" stroke="#0000ff" stroke-width="4.8" stroke-linejoin="round" stroke-linecap="round"/>
<path class="c" d="M173.0,36.5 C175.0,36.8 180.5,37.9 185.0,38.5 C189.5,39.1 192.5,39.7 200.0,40.0 C207.5,40.3 220.0,40.6 230.0,40.5 C240.0,40.4 253.3,39.8 260.0,39.5 C266.7,39.2 266.8,38.2 270.0,39.0 C273.2,39.8 276.5,42.5 279.0,44.0 C281.5,45.5 283.0,46.8 285.0,48.0 C287.0,49.2 289.2,49.3 291.0,51.0 C292.8,52.7 294.3,55.9 296.0,58.0 C297.7,60.1 299.7,60.5 301.2,63.6 C302.7,66.7 303.9,71.9 305.0,76.6 C306.1,81.3 307.1,87.3 308.0,92.0 C308.9,96.7 309.7,99.6 310.5,104.6 C311.3,109.6 312.1,115.8 313.0,122.0 C313.9,128.2 315.1,136.0 316.1,142.0 C317.1,148.0 318.1,153.3 319.0,158.0 C319.9,162.7 320.8,164.2 321.7,170.0 C322.6,175.8 323.6,185.2 324.5,193.0 C325.4,200.8 326.4,209.6 327.3,216.6 C328.2,223.6 329.1,229.1 330.0,235.0 C330.9,240.9 331.9,245.3 332.7,252.0 C333.5,258.7 334.3,267.0 335.0,275.0 C335.7,283.0 336.4,292.9 337.0,300.0 C337.6,307.1 338.2,310.8 338.8,317.5 C339.2,324.2 339.6,332.1 340.0,340.0 C340.4,347.9 340.4,350.8 341.2,365.0 C342.1,379.2 343.5,402.5 345.0,425.0 C346.5,447.5 348.3,477.1 350.0,500.0 C351.7,522.9 353.3,541.7 355.0,562.5 C356.7,583.3 358.3,604.6 360.0,625.0 C361.7,645.4 363.8,667.5 365.0,685.0 C366.2,702.5 366.2,714.2 367.5,730.0 C368.8,745.8 371.0,761.7 372.5,780.0 C374.0,798.3 374.9,822.5 376.7,840.0 C378.5,857.5 380.8,870.6 383.4,884.8 C386.0,899.0 389.0,913.1 392.4,925.0 C395.8,936.9 399.9,948.5 403.6,956.4 C407.3,964.2 410.7,968.2 414.8,972.1 C418.9,976.0 424.5,979.1 428.2,979.9 C431.9,980.6 433.8,978.3 437.2,976.6 C440.6,974.9 443.2,973.7 448.4,969.8 C453.6,965.9 462.2,957.9 468.5,953.0 C474.8,948.1 480.4,943.9 486.4,940.7 C492.4,937.5 499.4,935.1 504.3,934.0 C509.2,932.9 511.0,933.4 515.5,934.0 C520.0,934.6 526.0,935.9 531.2,937.4 C536.4,938.9 542.4,941.7 546.9,943.0 C551.4,944.3 554.6,943.7 558.0,945.2 C561.4,946.7 564.6,948.5 567.0,951.9 C569.4,955.3 571.1,960.9 572.6,965.4 C574.1,969.9 574.5,976.6 576.0,978.8 C577.5,981.0 579.4,977.7 581.6,978.8 C583.8,979.9 586.6,981.0 589.4,985.5 C592.2,990.0 595.7,998.2 598.3,1005.7 C600.9,1013.2 602.9,1021.3 605.1,1030.3 C607.4,1039.2 609.6,1049.0 611.8,1059.4 C614.0,1069.9 616.3,1082.2 618.5,1093.0 C620.7,1103.8 623.3,1116.5 625.2,1124.3 C627.1,1132.1 628.1,1135.7 629.7,1140.0 C631.3,1144.3 632.9,1147.0 635.0,1150.0 C637.1,1153.0 639.8,1158.0 642.5,1157.8 C645.2,1157.6 649.0,1152.3 651.3,1149.0 C653.6,1145.7 654.9,1141.5 656.5,1137.7 C658.1,1134.0 659.5,1129.1 661.0,1126.5 C662.5,1123.9 664.0,1121.7 665.5,1122.1 C667.0,1122.5 668.5,1127.1 670.0,1128.8 C671.5,1130.5 672.8,1132.8 674.5,1132.1 C676.2,1131.3 678.5,1130.1 680.0,1124.3 C681.5,1118.5 682.1,1109.3 683.4,1097.4 C684.7,1085.5 686.4,1069.5 687.9,1052.7 C689.4,1035.9 690.9,1017.2 692.4,996.7 C693.9,976.2 695.4,947.0 696.8,929.5 C698.2,912.0 698.8,904.9 701.0,892.0 C703.2,879.1 705.4,871.3 710.0,852.0 C714.6,832.7 723.9,793.9 728.8,776.0 C733.7,758.1 736.2,752.4 739.3,744.8 C742.4,737.2 745.0,731.9 747.5,730.6 C750.0,729.4 752.1,733.4 754.2,737.3 C756.3,741.1 758.1,749.0 760.1,753.7 C762.1,758.4 763.9,764.7 766.1,765.7 C768.4,766.7 770.9,764.2 773.6,759.7 C776.3,755.2 779.5,747.0 782.5,738.8 C785.5,730.6 788.5,720.3 791.5,710.4 C794.5,700.5 797.9,688.5 800.4,679.1 C802.9,669.7 804.7,660.5 806.4,654.0 C808.1,647.5 808.5,644.0 810.5,640.0 C812.5,636.0 816.6,633.5 818.4,630.0 C820.2,626.5 820.5,623.7 821.5,619.0 C822.5,614.3 823.1,609.3 824.5,602.0 C825.9,594.7 828.2,585.8 830.0,575.0 C831.8,564.2 833.3,550.0 835.0,537.5 C836.7,525.0 837.9,514.6 840.0,500.0 C842.1,485.4 845.0,466.7 847.5,450.0 C850.0,433.3 852.8,414.2 855.0,400.0 C857.2,385.8 858.9,378.8 861.0,365.0 C863.1,351.2 865.2,333.8 867.5,317.5 C869.8,301.2 872.5,281.2 875.0,267.5 C877.5,253.8 880.6,242.0 882.5,235.0 C884.4,228.0 884.8,228.9 886.5,225.3 C888.2,221.7 890.9,217.2 892.6,213.2 C894.3,209.2 895.6,205.8 896.6,201.1 C897.6,196.4 897.6,189.7 898.6,185.0 C899.6,180.3 900.7,179.4 902.6,172.9 C904.5,166.4 907.0,156.4 910.0,146.0 C913.0,135.6 917.0,121.4 920.8,110.4 C924.6,99.4 929.2,88.6 932.9,80.2 C936.6,71.8 939.8,65.5 943.0,60.0 C946.2,54.5 948.8,50.2 952.0,47.0 C955.2,43.8 958.7,42.2 962.5,41.0 C966.3,39.8 972.1,40.0 975.0,40.0 C977.9,40.0 976.7,41.0 980.0,41.0 C983.3,41.0 989.6,40.3 995.0,40.0 C1000.4,39.7 1006.7,39.0 1012.5,39.0 C1018.3,39.0 1023.3,38.3 1030.0,40.0 C1036.7,41.7 1046.2,46.1 1052.5,49.0 C1058.8,51.9 1062.9,53.6 1067.5,57.5 C1072.1,61.4 1075.4,66.7 1080.0,72.5 C1084.6,78.3 1090.4,86.2 1095.0,92.5 C1099.6,98.8 1104.2,103.8 1107.5,110.0 C1110.8,116.2 1112.9,122.5 1115.0,130.0 C1117.1,137.5 1118.3,145.8 1120.0,155.0 C1121.7,164.2 1123.3,174.6 1125.0,185.0 C1126.7,195.4 1128.3,205.8 1130.0,217.5 C1131.7,229.2 1133.3,240.4 1135.0,255.0 C1136.7,269.6 1138.5,286.7 1140.0,305.0 C1141.5,323.3 1142.1,332.5 1143.8,365.0 C1145.4,397.5 1148.1,460.8 1150.0,500.0 C1151.9,539.2 1153.8,569.2 1155.0,600.0 C1156.2,630.8 1156.8,658.9 1157.5,685.0 C1158.2,711.1 1158.5,728.6 1159.1,756.4 C1159.7,784.2 1160.4,815.1 1161.0,851.9 C1161.6,888.7 1162.3,943.7 1162.9,977.3 C1163.5,1010.9 1164.0,1033.0 1164.8,1053.7 C1165.6,1074.4 1166.4,1089.4 1167.7,1101.5 C1169.0,1113.6 1170.8,1120.2 1172.5,1126.3 C1174.2,1132.3 1176.5,1134.9 1178.2,1137.8 C1180.0,1140.7 1181.4,1141.0 1183.0,1143.5 C1184.6,1146.0 1186.4,1152.7 1187.8,1153.0 C1189.2,1153.3 1190.5,1152.4 1191.6,1145.4 C1192.7,1138.4 1193.5,1129.5 1194.4,1111.0 C1195.4,1092.5 1196.3,1060.1 1197.3,1034.6 C1198.3,1009.1 1198.9,988.6 1200.2,958.2 C1201.5,927.8 1203.7,877.7 1205.0,852.0 C1206.3,826.3 1207.0,812.8 1207.8,804.2 C1208.6,795.6 1208.9,799.7 1209.7,800.3 C1210.5,800.9 1211.6,812.1 1212.6,808.0 C1213.6,803.9 1214.5,790.5 1215.5,775.5 C1216.5,760.5 1217.1,760.0 1218.3,718.2 C1219.5,676.5 1221.0,573.9 1222.5,525.0 C1224.0,476.1 1225.8,465.8 1227.5,425.0 C1229.2,384.2 1231.2,316.7 1232.5,280.0 C1233.8,243.3 1233.8,226.7 1235.0,205.0 C1236.2,183.3 1238.3,163.3 1240.0,150.0 C1241.7,136.7 1243.3,135.4 1245.0,125.0 C1246.7,114.6 1248.3,94.6 1250.0,87.5 C1251.7,80.4 1253.5,84.2 1255.0,82.5 C1256.5,80.8 1257.5,75.8 1258.8,77.5 C1260.0,79.2 1261.0,81.7 1262.5,92.5 C1264.0,103.3 1266.1,123.8 1267.5,142.5 C1268.9,161.2 1269.8,182.1 1271.0,205.0 C1272.2,227.9 1273.9,253.3 1275.0,280.0 C1276.1,306.7 1276.7,328.3 1277.5,365.0 C1278.3,401.7 1279.3,447.5 1280.0,500.0 C1280.7,552.5 1281.0,637.3 1281.4,680.0 C1281.8,722.7 1281.8,727.7 1282.3,756.4 C1282.8,785.1 1283.6,816.8 1284.2,852.0 C1284.8,887.2 1285.3,939.6 1286.1,967.8 C1286.9,996.0 1287.9,1016.4 1289.0,1021.2 C1290.1,1026.0 1291.5,1004.7 1292.8,996.4 C1294.1,988.1 1295.5,979.5 1296.6,971.6 C1297.7,963.7 1298.5,965.5 1299.5,948.7 C1300.5,931.9 1301.3,893.5 1302.4,871.0 C1303.5,848.5 1305.2,823.6 1306.2,813.7 C1307.2,803.8 1307.5,808.6 1308.1,811.8 C1308.7,815.0 1309.2,825.2 1310.0,832.8 C1310.8,840.4 1311.8,853.1 1312.9,857.6 C1314.0,862.1 1315.8,858.6 1316.7,859.6 C1317.7,860.6 1317.6,845.4 1318.6,863.4 C1319.5,881.4 1321.5,945.6 1322.4,967.8 C1323.4,990.0 1323.7,996.4 1324.3,996.4 C1324.9,996.4 1325.5,977.3 1326.2,967.8 C1326.9,958.2 1327.4,945.8 1328.2,939.1 C1329.0,932.4 1329.9,932.6 1331.0,927.6 C1332.1,922.6 1333.8,925.0 1334.8,909.2 C1335.8,893.4 1335.8,846.5 1336.7,832.8 C1337.6,819.1 1338.9,828.9 1340.3,827.1 C1341.7,825.4 1343.7,821.3 1345.3,822.3 C1346.9,823.2 1348.7,824.7 1350.1,832.8 C1351.5,840.9 1352.6,856.5 1353.9,871.0 C1355.2,885.5 1356.5,902.3 1357.8,920.0 C1359.1,937.7 1360.0,956.6 1361.6,977.3 C1363.2,998.0 1365.4,1026.7 1367.3,1044.2 C1369.2,1061.7 1370.6,1073.3 1373.0,1082.4 C1375.4,1091.5 1379.0,1097.6 1381.6,1098.6 C1384.1,1099.5 1386.2,1093.0 1388.3,1088.1 C1390.4,1083.2 1392.5,1077.9 1394.1,1069.0 C1395.7,1060.1 1396.6,1046.7 1397.9,1034.6 C1399.2,1022.5 1400.6,1003.4 1401.7,996.4 C1402.8,989.4 1403.3,991.0 1404.6,992.6 C1405.9,994.2 1408.0,1000.3 1409.3,1006.0 C1410.6,1011.7 1410.9,1023.8 1412.2,1027.0 C1413.5,1030.2 1415.4,1026.4 1417.0,1025.1 C1418.6,1023.8 1420.2,1017.2 1421.8,1019.3 C1423.4,1021.4 1425.1,1038.3 1426.7,1037.5 C1428.3,1036.7 1430.1,1026.4 1431.5,1014.6 C1432.9,1002.8 1434.0,982.8 1435.3,966.9 C1436.6,951.0 1437.5,922.9 1439.1,919.1 C1440.7,915.3 1442.7,946.8 1444.8,943.9 C1446.9,941.0 1449.3,904.4 1451.5,901.9 C1453.7,899.4 1456.1,921.7 1458.2,928.7 C1460.3,935.7 1462.0,940.7 1463.9,943.9 C1465.8,947.1 1468.1,943.0 1469.7,947.8 C1471.3,952.6 1472.2,965.9 1473.5,972.6 C1474.8,979.3 1476.0,985.4 1477.3,987.9 C1478.6,990.4 1479.7,990.4 1481.1,987.9 C1482.5,985.4 1484.5,978.6 1485.9,972.6 C1487.3,966.6 1488.4,954.2 1489.7,951.6 C1491.0,949.0 1492.4,959.5 1493.5,957.3 C1494.6,955.1 1495.6,951.1 1496.4,938.2 C1497.2,925.3 1497.7,896.2 1498.3,880.0 C1498.9,863.8 1499.2,850.7 1500.2,841.0 C1501.2,831.3 1502.7,829.5 1504.0,821.9 C1505.3,814.3 1506.6,803.2 1507.9,795.2 C1509.2,787.2 1510.1,770.1 1511.7,774.2 C1513.3,778.3 1515.5,819.0 1517.4,820.0 C1519.3,821.0 1521.6,784.7 1523.2,779.9 C1524.8,775.1 1525.7,797.1 1527.0,791.4 C1528.3,785.7 1529.5,757.3 1530.8,745.5 C1532.1,733.7 1533.0,714.3 1534.6,720.7 C1536.2,727.1 1538.7,777.0 1540.3,783.7 C1541.9,790.4 1542.9,773.5 1544.2,760.8 C1545.5,748.1 1547.0,734.1 1548.0,707.3 C1549.0,680.5 1549.3,624.5 1550.0,600.0 C1550.7,575.5 1551.2,572.4 1552.2,560.0 C1553.2,547.6 1554.9,543.6 1555.9,525.5 C1556.9,507.4 1557.1,477.9 1558.3,451.6 C1559.5,425.3 1561.8,372.0 1563.2,367.9 C1564.6,363.8 1566.1,411.0 1566.9,427.0 C1567.7,443.0 1567.4,459.8 1568.2,463.9 C1569.0,468.0 1570.7,466.0 1571.9,451.6 C1573.1,437.2 1574.4,404.4 1575.6,377.7 C1576.8,351.0 1578.2,311.3 1579.2,291.6 C1580.2,271.9 1580.9,257.4 1581.7,259.5 C1582.5,261.6 1583.4,289.1 1584.2,303.9 C1585.0,318.7 1585.6,344.1 1586.6,348.2 C1587.6,352.3 1589.0,354.2 1590.3,328.5 C1591.6,302.8 1593.0,223.4 1594.2,194.2 C1595.4,165.0 1596.3,163.5 1597.5,153.1 C1598.7,142.7 1599.9,133.2 1601.1,131.8 C1602.3,130.4 1603.5,138.6 1604.8,144.9 C1606.1,151.2 1607.8,158.6 1609.0,169.5 C1610.2,180.4 1611.4,188.2 1612.2,210.6 C1613.0,233.0 1613.0,276.0 1613.7,303.9 C1614.4,331.8 1615.5,359.2 1616.2,377.7 C1617.0,396.2 1617.4,414.7 1618.2,414.7 C1619.0,414.7 1620.2,396.2 1621.1,377.7 C1622.0,359.2 1622.9,325.2 1623.6,303.9 C1624.3,282.6 1624.7,271.0 1625.4,250.0 C1626.1,229.0 1627.0,198.1 1627.8,177.8 C1628.6,157.6 1629.5,139.7 1630.3,128.5 C1631.1,117.3 1631.8,110.4 1632.8,110.4 C1633.8,110.4 1635.0,117.3 1636.0,128.5 C1637.0,139.7 1637.7,157.6 1638.5,177.8 C1639.3,198.1 1640.2,214.6 1641.0,250.0 C1641.8,285.4 1642.7,363.0 1643.3,390.0 C1643.9,417.0 1643.9,414.2 1644.5,412.2 C1645.1,410.1 1646.0,395.8 1647.0,377.7 C1648.0,359.6 1649.4,325.2 1650.7,303.9 C1652.0,282.6 1653.4,268.3 1654.9,250.0 C1656.4,231.7 1658.6,207.1 1659.8,194.2 C1661.0,181.3 1661.2,173.9 1662.3,172.8 C1663.4,171.7 1665.0,186.5 1666.4,187.6 C1667.8,188.7 1669.1,177.5 1670.5,179.4 C1671.9,181.3 1673.1,193.9 1674.6,199.1 C1676.1,204.3 1678.0,199.3 1679.5,210.6 C1681.0,221.9 1682.4,254.2 1683.9,266.9 C1685.5,279.6 1687.0,278.8 1688.8,286.6 C1690.6,294.4 1693.2,312.9 1695.0,313.7 C1696.8,314.5 1698.3,301.5 1699.9,291.6 C1701.5,281.8 1703.0,270.8 1704.8,254.6 C1706.6,238.4 1708.9,212.5 1710.7,194.2 C1712.5,175.9 1714.1,155.3 1715.7,144.9 C1717.3,134.5 1719.2,135.1 1720.6,131.8 C1722.0,128.5 1722.8,128.5 1723.9,125.2 C1725.0,121.9 1725.8,115.9 1727.2,112.1 C1728.6,108.3 1730.7,103.3 1732.1,102.2 C1733.5,101.1 1734.3,109.3 1735.4,105.5 C1736.5,101.7 1737.3,89.4 1738.7,79.3 C1740.1,69.2 1742.2,48.9 1743.6,44.8 C1745.0,40.7 1745.8,51.6 1746.9,54.6 C1748.0,57.6 1749.0,63.3 1750.1,62.8 C1751.2,62.2 1752.3,55.1 1753.4,51.3 C1754.5,47.5 1756.2,41.8 1756.7,39.9" fill="none" stroke="#000080" stroke-width="4.8" stroke-linejoin="round" stroke-linecap="round"/>
<path class="c" d="M173.0,33.0 C175.0,33.2 180.5,34.2 185.0,34.5 C189.5,34.8 189.2,34.8 200.0,35.0 C210.8,35.2 236.5,35.2 250.0,35.5 C263.5,35.8 272.4,36.2 281.0,37.0 C289.6,37.8 296.4,38.7 301.5,40.0 C306.6,41.3 309.0,43.5 311.5,45.0 C314.0,46.5 314.9,48.2 316.6,49.0 C318.3,49.8 319.1,50.0 321.7,50.0 C324.3,50.0 326.5,48.3 332.5,48.8 C338.5,49.2 349.2,49.8 357.5,52.5 C365.8,55.2 372.9,61.1 382.5,65.0 C392.1,68.9 404.6,73.1 415.0,76.0 C425.4,78.9 435.8,81.2 445.0,82.5 C454.2,83.8 461.7,84.6 470.0,84.0 C478.3,83.4 486.7,81.5 495.0,79.0 C503.3,76.5 511.7,72.0 520.0,69.0 C528.3,66.0 536.7,63.2 545.0,61.0 C553.3,58.8 562.5,56.6 570.0,56.0 C577.5,55.4 585.0,55.6 590.0,57.5 C595.0,59.4 596.7,59.9 600.0,67.5 C603.3,75.1 607.1,91.8 610.0,103.0 C612.9,114.2 615.0,126.3 617.5,135.0 C620.0,143.7 622.5,146.7 625.0,155.0 C627.5,163.3 630.0,178.3 632.5,185.0 C635.0,191.7 637.8,192.7 640.0,195.0 C642.2,197.3 644.3,199.4 646.0,199.0 C647.7,198.6 648.1,199.0 650.0,192.5 C651.9,186.0 655.0,168.3 657.5,160.0 C660.0,151.7 662.5,145.0 665.0,142.5 C667.5,140.0 670.4,145.8 672.5,145.0 C674.6,144.2 675.4,146.2 677.5,137.5 C679.6,128.8 682.5,104.2 685.0,92.5 C687.5,80.8 689.6,72.8 692.5,67.5 C695.4,62.2 698.8,63.2 702.5,61.0 C706.2,58.8 708.8,56.0 715.0,54.0 C721.2,52.0 730.0,50.5 740.0,49.0 C750.0,47.5 760.8,46.3 775.0,45.0 C789.2,43.7 808.3,41.8 825.0,41.0 C841.7,40.2 864.6,40.6 875.0,40.0 C885.4,39.4 883.8,37.5 887.5,37.5 C891.2,37.5 887.5,40.0 897.5,40.0 C907.9,40.0 925.4,38.3 950.0,37.5 C974.6,36.7 1015.0,35.6 1045.0,35.0 C1075.0,34.4 1113.8,33.8 1130.0,34.0 C1142.5,34.2 1138.3,35.7 1142.5,36.0 C1146.7,36.3 1152.1,34.5 1155.0,36.0 C1157.9,37.5 1158.8,37.7 1160.0,45.0 C1161.2,52.3 1161.7,61.7 1162.5,80.0 C1163.3,98.3 1164.2,130.0 1165.0,155.0 C1165.8,180.0 1166.7,205.0 1167.5,230.0 C1168.3,255.0 1169.2,282.5 1170.0,305.0 C1170.8,327.5 1171.9,350.4 1172.5,365.0 C1173.1,379.6 1173.2,391.7 1173.8,392.5 C1174.2,393.3 1174.9,378.8 1175.5,370.0 C1176.1,361.2 1176.8,355.0 1177.5,340.0 C1178.2,325.0 1179.2,302.5 1180.0,280.0 C1180.8,257.5 1181.2,225.8 1182.5,205.0 C1183.8,184.2 1185.4,168.8 1187.5,155.0 C1189.6,141.2 1192.5,129.6 1195.0,122.5 C1197.5,115.4 1200.0,114.6 1202.5,112.5 C1205.0,110.4 1207.1,112.5 1210.0,110.0 C1212.9,107.5 1216.2,100.7 1220.0,97.5 C1223.8,94.3 1228.8,91.0 1232.5,91.0 C1236.2,91.0 1238.8,93.9 1242.5,97.5 C1246.2,101.1 1251.7,111.7 1255.0,112.5 C1258.3,113.3 1259.8,108.1 1262.5,102.5 C1265.2,96.9 1268.1,80.2 1271.0,79.0 C1273.9,77.8 1277.2,85.7 1280.0,95.0 C1282.8,104.3 1285.0,119.2 1287.5,135.0 C1290.0,150.8 1292.5,186.7 1295.0,190.0 C1297.5,193.3 1299.8,169.3 1302.5,155.0 C1305.2,140.7 1308.5,110.2 1311.0,104.0 C1313.5,97.8 1315.3,111.9 1317.5,117.5 C1319.7,123.1 1321.5,137.9 1324.0,137.5 C1326.5,137.1 1329.0,122.8 1332.5,115.0 C1336.0,107.2 1340.4,92.8 1345.0,91.0 C1349.6,89.2 1355.8,95.4 1360.0,104.0 C1364.2,112.6 1366.7,127.8 1370.0,142.5 C1373.3,157.2 1377.0,173.8 1380.0,192.5 C1383.0,211.2 1386.2,245.4 1388.0,255.0 C1389.8,264.6 1389.0,259.6 1391.0,250.0 C1393.0,240.4 1397.2,200.8 1400.0,197.5 C1402.8,194.2 1405.0,214.2 1407.5,230.0 C1410.0,245.8 1412.5,275.8 1415.0,292.5 C1417.5,309.2 1420.2,317.9 1422.5,330.0 C1424.8,342.1 1427.5,356.7 1428.8,365.0 C1430.0,373.3 1429.2,380.0 1430.0,380.0 C1430.8,380.0 1432.1,377.5 1433.8,365.0 C1435.4,352.5 1437.3,323.3 1440.0,305.0 C1442.7,286.7 1446.7,265.4 1450.0,255.0 C1453.3,244.6 1456.2,250.8 1460.0,242.5 C1463.8,234.2 1469.2,219.6 1472.5,205.0 C1475.8,190.4 1477.5,167.1 1480.0,155.0 C1482.5,142.9 1484.2,131.2 1487.5,132.5 C1490.8,133.8 1496.2,162.1 1500.0,162.5 C1503.8,162.9 1506.7,145.4 1510.0,135.0 C1513.3,124.6 1517.1,109.2 1520.0,100.0 C1522.9,90.8 1525.0,83.8 1527.5,80.0 C1530.0,76.2 1532.9,78.7 1535.0,77.5 C1537.1,76.3 1537.8,75.5 1540.0,72.7 C1542.2,69.9 1545.7,60.7 1548.2,60.4 C1550.7,60.1 1552.6,67.5 1554.8,71.0 C1557.0,74.5 1559.1,82.2 1561.3,81.7 C1563.5,81.2 1566.1,71.3 1567.9,67.8 C1569.7,64.2 1570.6,61.2 1572.0,60.4 C1573.4,59.6 1574.2,62.9 1576.1,62.8 C1578.0,62.7 1581.3,58.8 1583.5,59.6 C1585.7,60.4 1587.5,63.7 1589.3,67.8 C1591.1,71.9 1592.4,77.1 1594.2,84.2 C1596.0,91.3 1598.0,108.5 1599.9,110.4 C1601.8,112.3 1603.9,103.6 1605.7,95.7 C1607.5,87.8 1609.1,71.3 1610.6,62.8 C1612.1,54.3 1613.1,46.2 1614.7,44.8 C1616.3,43.4 1618.6,51.6 1620.4,54.6 C1622.2,57.6 1623.8,62.8 1625.4,62.8 C1627.1,62.8 1628.7,58.1 1630.3,54.6 C1631.9,51.1 1632.8,42.2 1635.2,41.5 C1637.7,40.8 1642.6,47.9 1645.0,50.1 C1647.4,52.3 1648.0,53.6 1649.4,54.6 C1650.8,55.6 1651.9,55.1 1653.3,55.9 C1654.7,56.7 1656.5,58.8 1657.9,59.3 C1659.3,59.8 1660.7,59.1 1661.9,58.8 C1663.2,58.5 1664.2,57.5 1665.4,57.7 C1666.6,57.9 1668.1,59.5 1669.2,60.2 C1670.3,60.9 1671.2,61.6 1672.3,61.7 C1673.4,61.8 1674.7,60.5 1675.8,60.9 C1676.9,61.3 1677.5,63.4 1678.8,64.2 C1680.0,65.0 1681.8,65.5 1683.3,65.5 C1684.8,65.5 1686.3,64.2 1687.6,64.5 C1688.9,64.8 1690.1,66.5 1691.2,67.5 C1692.3,68.5 1693.2,69.9 1694.4,70.2 C1695.6,70.5 1696.8,69.2 1698.2,69.4 C1699.6,69.6 1701.2,70.6 1702.8,71.6 C1704.4,72.5 1706.2,74.2 1707.7,75.1 C1709.2,76.0 1710.5,75.8 1711.8,76.8 C1713.1,77.8 1714.5,79.1 1715.7,80.8 C1716.9,82.5 1717.7,86.4 1718.8,86.8 C1719.9,87.2 1721.1,84.4 1722.3,83.4 C1723.5,82.4 1724.3,82.0 1725.7,80.6 C1727.1,79.2 1729.0,76.3 1730.5,75.1 C1732.0,73.9 1733.5,73.9 1735.0,73.5 C1736.5,73.1 1738.1,72.8 1739.5,72.9 C1740.9,73.0 1742.2,74.1 1743.4,74.1 C1744.6,74.1 1744.6,73.7 1746.8,73.0 C1749.0,72.3 1755.0,70.7 1756.7,70.2" fill="none" stroke="#ff0000" stroke-width="4.8" stroke-linejoin="round" stroke-linecap="round"/>
<path class="c" d="M173.0,34.0 C173.5,34.0 175.2,33.5 176.0,34.2 C176.8,34.9 177.4,37.9 178.1,38.1 C178.8,38.3 179.3,36.1 180.0,35.3 C180.7,34.5 181.4,32.9 182.1,33.2 C182.8,33.5 183.4,37.0 184.1,37.0 C184.8,37.0 185.8,33.9 186.5,33.3 C187.2,32.7 187.6,32.7 188.3,33.6 C189.0,34.5 190.0,37.4 190.6,38.6 C191.2,39.8 191.4,40.9 192.1,41.0 C192.8,41.1 193.8,39.9 194.6,39.0 C195.4,38.1 196.2,35.6 196.8,35.6 C197.4,35.6 197.7,38.6 198.2,38.7 C198.7,38.8 199.2,36.8 199.7,36.3 C200.2,35.8 200.8,35.0 201.4,35.4 C202.0,35.8 202.6,38.1 203.3,38.9 C204.0,39.6 204.9,39.7 205.7,39.9 C206.5,40.1 207.2,40.0 207.9,40.1 C208.6,40.2 209.4,39.5 210.1,40.2 C210.8,40.9 211.1,43.8 211.8,44.3 C212.5,44.8 213.6,44.0 214.4,43.2 C215.2,42.4 216.0,40.0 216.7,39.3 C217.3,38.6 217.8,38.6 218.3,39.2 C218.8,39.8 219.2,42.2 219.8,42.9 C220.4,43.6 221.1,43.2 221.7,43.5 C222.3,43.8 222.9,45.4 223.6,44.4 C224.3,43.4 225.3,37.2 226.0,37.2 C226.7,37.2 227.0,42.9 227.6,44.2 C228.2,45.5 228.9,45.8 229.6,44.8 C230.2,43.8 230.8,38.2 231.5,38.0 C232.2,37.8 232.9,43.4 233.6,43.4 C234.2,43.4 234.8,38.0 235.4,38.2 C236.0,38.5 236.5,44.8 237.2,44.9 C237.9,45.0 238.8,39.7 239.5,38.6 C240.2,37.5 240.7,37.6 241.2,38.5 C241.7,39.4 242.1,43.2 242.6,43.8 C243.1,44.4 243.7,42.8 244.3,42.0 C244.9,41.2 245.5,39.6 246.2,39.1 C246.9,38.6 247.8,38.8 248.5,38.7 C249.2,38.6 249.9,38.5 250.6,38.6 C251.3,38.7 251.9,38.2 252.5,39.3 C253.1,40.4 253.6,45.0 254.3,45.1 C255.0,45.2 255.8,41.0 256.6,40.0 C257.4,39.0 258.4,38.6 259.1,39.3 C259.8,40.0 260.3,44.3 261.0,44.2 C261.7,44.1 262.3,39.3 263.1,38.5 C263.9,37.7 265.0,38.4 265.7,39.3 C266.4,40.1 266.8,43.5 267.4,43.6 C268.0,43.7 268.6,40.9 269.2,40.0 C269.8,39.1 270.1,38.5 270.7,38.5 C271.3,38.5 272.1,39.4 272.8,39.9 C273.5,40.4 274.2,40.2 274.9,41.2 C275.6,42.2 276.2,45.5 276.9,45.9 C277.6,46.2 278.2,44.2 278.9,43.3 C279.6,42.4 280.6,40.1 281.3,40.6 C282.0,41.1 282.2,46.1 282.9,46.3 C283.6,46.4 284.6,41.6 285.3,41.5 C286.0,41.4 286.2,45.4 286.9,45.4 C287.6,45.4 288.5,41.2 289.4,41.5 C290.2,41.8 291.2,46.6 292.0,47.0 C292.8,47.4 293.5,44.7 294.1,43.7 C294.7,42.7 294.9,41.1 295.6,40.9 C296.3,40.7 297.4,42.4 298.2,42.7 C299.0,43.1 299.6,42.4 300.4,43.0 C301.2,43.6 302.1,46.0 302.8,46.1 C303.5,46.2 303.9,44.0 304.6,43.5 C305.3,43.0 306.2,42.6 306.8,43.3 C307.4,44.0 307.8,46.7 308.5,47.6 C309.2,48.5 309.5,47.8 310.9,48.7 C312.2,49.6 315.1,52.0 316.6,53.0 C318.1,54.0 319.1,53.7 320.0,55.0 C320.9,56.3 320.5,57.4 321.7,61.0 C322.9,64.6 325.9,72.8 327.3,76.6 C328.7,80.4 329.1,81.3 330.0,84.0 C330.9,86.7 331.7,89.6 332.5,93.0 C333.3,96.4 332.8,96.5 334.8,104.6 C336.8,112.7 342.0,130.6 344.6,141.8 C347.2,153.0 348.6,161.7 350.6,171.6 C352.6,181.5 354.6,191.6 356.6,201.5 C358.6,211.4 360.6,221.6 362.5,231.3 C364.4,241.1 366.1,249.6 368.2,260.0 C370.3,270.4 372.5,283.7 374.9,293.6 C377.3,303.6 380.0,310.3 382.4,319.7 C384.8,329.1 387.1,341.6 389.4,350.0 C391.7,358.4 393.9,363.8 396.0,370.0 C398.1,376.2 399.8,380.7 402.1,387.3 C404.4,393.9 407.1,402.2 409.6,409.7 C412.1,417.1 414.8,425.3 417.0,432.0 C419.2,438.7 421.2,445.3 423.0,450.0 C424.8,454.7 426.3,457.3 428.0,460.0 C429.7,462.7 431.2,464.5 433.0,466.0 C434.8,467.5 436.8,468.8 439.0,469.0 C441.2,469.2 443.8,468.5 446.0,467.0 C448.2,465.5 448.5,465.8 452.5,460.0 C456.5,454.2 462.9,444.2 470.0,432.5 C477.1,420.8 488.3,401.8 495.0,390.0 C501.7,378.2 505.8,369.0 510.0,362.0 C514.2,355.0 516.2,355.0 520.0,348.0 C523.8,341.0 527.1,329.7 532.5,320.0 C537.9,310.3 545.0,299.2 552.5,290.0 C560.0,280.8 570.4,271.2 577.5,265.0 C584.6,258.8 591.2,254.8 595.0,252.5 C598.8,250.2 597.5,252.1 600.0,251.0 C602.5,249.9 607.1,246.2 610.0,246.0 C612.9,245.8 615.0,246.4 617.5,250.0 C620.0,253.6 621.7,265.4 625.0,267.5 C628.3,269.6 634.0,262.8 637.5,262.5 C641.0,262.2 643.5,268.1 646.0,266.0 C648.5,263.9 649.3,255.2 652.5,250.0 C655.7,244.8 661.2,238.5 665.0,235.0 C668.8,231.5 672.5,231.5 675.0,229.0 C677.5,226.5 677.9,223.6 680.0,220.0 C682.1,216.4 682.1,213.3 687.5,207.5 C692.9,201.7 702.1,191.7 712.5,185.0 C722.9,178.3 737.5,171.8 750.0,167.5 C762.5,163.2 775.8,161.8 787.5,159.0 C799.2,156.2 811.7,153.8 820.0,151.0 C828.3,148.2 830.4,146.0 837.5,142.5 C844.6,139.0 854.6,133.3 862.5,130.0 C870.4,126.7 880.4,123.5 885.0,122.5 C889.6,121.5 887.9,125.2 890.0,124.0 C892.1,122.8 895.4,116.1 897.5,115.0 C899.6,113.9 897.9,119.0 902.5,117.5 C907.1,116.0 917.1,109.3 925.0,106.0 C932.9,102.7 939.6,99.8 950.0,97.5 C960.4,95.2 977.1,93.1 987.5,92.5 C997.9,91.9 1005.4,93.6 1012.5,94.0 C1019.6,94.4 1020.8,93.6 1030.0,95.0 C1039.2,96.4 1055.0,99.6 1067.5,102.5 C1080.0,105.4 1095.4,109.2 1105.0,112.5 C1114.6,115.8 1119.6,118.8 1125.0,122.5 C1130.4,126.2 1133.8,129.6 1137.5,135.0 C1141.2,140.4 1144.6,146.7 1147.5,155.0 C1150.4,163.3 1152.9,174.6 1155.0,185.0 C1157.1,195.4 1158.3,203.8 1160.0,217.5 C1161.7,231.2 1163.3,250.8 1165.0,267.5 C1166.7,284.2 1167.5,305.0 1170.0,317.5 C1172.5,330.0 1177.5,334.6 1180.0,342.5 C1182.5,350.4 1183.3,355.4 1185.0,365.0 C1186.7,374.6 1187.9,383.8 1190.0,400.0 C1192.1,416.2 1195.0,445.8 1197.5,462.5 C1200.0,479.2 1202.1,488.8 1205.0,500.0 C1207.9,511.2 1211.9,527.5 1215.0,530.0 C1218.1,532.5 1220.8,511.7 1223.8,515.0 C1226.7,518.3 1229.4,537.9 1232.5,550.0 C1235.6,562.1 1239.8,579.4 1242.5,587.5 C1245.2,595.6 1246.7,598.8 1248.8,598.8 C1250.8,598.8 1253.1,594.4 1255.0,587.5 C1256.9,580.6 1258.1,564.4 1260.0,557.5 C1261.9,550.6 1264.2,547.4 1266.2,546.0 C1268.3,544.6 1270.2,552.5 1272.5,549.0 C1274.8,545.5 1277.9,539.4 1280.0,525.0 C1282.1,510.6 1283.3,477.1 1285.0,462.5 C1286.7,447.9 1287.9,444.2 1290.0,437.5 C1292.1,430.8 1295.0,430.8 1297.5,422.5 C1300.0,414.2 1302.9,394.2 1305.0,387.5 C1307.1,380.8 1307.9,376.2 1310.0,382.5 C1312.1,388.8 1314.2,411.7 1317.5,425.0 C1320.8,438.3 1325.8,450.0 1330.0,462.5 C1334.2,475.0 1339.0,496.7 1342.5,500.0 C1346.0,503.3 1348.3,495.0 1351.2,482.5 C1354.2,470.0 1356.5,447.1 1360.0,425.0 C1363.5,402.9 1369.2,367.9 1372.5,350.0 C1375.8,332.1 1377.3,326.2 1380.0,317.5 C1382.7,308.8 1386.2,298.3 1388.8,297.5 C1391.2,296.7 1392.7,306.2 1395.0,312.5 C1397.3,318.8 1398.3,332.5 1402.5,335.0 C1406.7,337.5 1414.6,332.5 1420.0,327.5 C1425.4,322.5 1431.2,308.8 1435.0,305.0 C1438.8,301.2 1439.2,307.9 1442.5,305.0 C1445.8,302.1 1451.2,289.6 1455.0,287.5 C1458.8,285.4 1461.7,286.2 1465.0,292.5 C1468.3,298.8 1472.1,317.1 1475.0,325.0 C1477.9,332.9 1479.6,341.2 1482.5,340.0 C1485.4,338.8 1487.9,337.9 1492.5,317.5 C1497.1,297.1 1503.8,243.3 1510.0,217.5 C1516.2,191.7 1525.0,168.8 1530.0,162.5 C1535.0,156.2 1537.2,177.7 1540.0,179.4 C1542.8,181.1 1544.4,178.6 1546.6,172.8 C1548.8,167.1 1551.2,151.7 1553.1,144.9 C1555.0,138.1 1556.6,134.8 1558.1,131.8 C1559.6,128.8 1560.6,127.2 1562.2,126.9 C1563.8,126.6 1566.4,127.1 1567.9,130.1 C1569.4,133.1 1570.1,130.9 1571.2,144.9 C1572.3,158.9 1573.1,211.2 1574.5,213.9 C1575.9,216.6 1578.0,164.6 1579.4,161.3 C1580.8,158.0 1581.5,183.0 1582.7,194.2 C1583.9,205.4 1585.4,231.4 1586.8,228.7 C1588.2,226.0 1589.4,191.2 1590.9,177.8 C1592.4,164.4 1594.2,152.6 1595.8,148.2 C1597.4,143.8 1599.0,149.9 1600.7,151.5 C1602.4,153.1 1603.5,156.6 1605.7,158.0 C1607.9,159.4 1611.2,159.1 1613.9,159.7 C1616.6,160.2 1619.1,159.7 1622.1,161.3 C1625.1,162.9 1628.6,165.7 1631.9,169.5 C1635.2,173.3 1638.0,180.7 1641.8,184.3 C1645.6,187.9 1651.1,188.4 1654.9,190.9 C1658.7,193.4 1661.5,198.6 1664.8,199.1 C1668.1,199.6 1670.8,197.8 1674.6,194.2 C1678.4,190.6 1682.9,185.5 1687.8,177.8 C1692.7,170.1 1698.7,157.5 1704.2,148.2 C1709.7,138.9 1715.1,131.8 1720.6,121.9 C1726.1,112.1 1732.3,98.9 1737.0,89.1 C1741.7,79.2 1745.2,71.8 1748.5,62.8 C1751.8,53.8 1755.3,39.5 1756.7,34.9" fill="none" stroke="#f4a460" stroke-width="4.8" stroke-linejoin="round" stroke-linecap="round"/>
</g>
<rect x="173.2" y="33.0" width="1584.3999999999999" height="1138.5" fill="none" stroke="#000" stroke-width="4.0"/>
<line x1="153.7" y1="1171.5" x2="173.2" y2="1171.5" stroke="#000" stroke-width="4.0"/>
<line x1="163.7" y1="1057.7" x2="173.2" y2="1057.7" stroke="#000" stroke-width="4.0"/>
<line x1="153.7" y1="943.8" x2="173.2" y2="943.8" stroke="#000" stroke-width="4.0"/>
<line x1="163.7" y1="830.0" x2="173.2" y2="830.0" stroke="#000" stroke-width="4.0"/>
<line x1="153.7" y1="716.1" x2="173.2" y2="716.1" stroke="#000" stroke-width="4.0"/>
<line x1="163.7" y1="602.2" x2="173.2" y2="602.2" stroke="#000" stroke-width="4.0"/>
<line x1="153.7" y1="488.4" x2="173.2" y2="488.4" stroke="#000" stroke-width="4.0"/>
<line x1="163.7" y1="374.6" x2="173.2" y2="374.6" stroke="#000" stroke-width="4.0"/>
<line x1="153.7" y1="260.7" x2="173.2" y2="260.7" stroke="#000" stroke-width="4.0"/>
<line x1="163.7" y1="146.8" x2="173.2" y2="146.8" stroke="#000" stroke-width="4.0"/>
<line x1="153.7" y1="33.0" x2="173.2" y2="33.0" stroke="#000" stroke-width="4.0"/>
<line x1="173.2" y1="1171.5" x2="173.2" y2="1191.0" stroke="#000" stroke-width="4.0"/>
<line x1="283.2" y1="1171.5" x2="283.2" y2="1181.0" stroke="#000" stroke-width="4.0"/>
<line x1="393.2" y1="1171.5" x2="393.2" y2="1191.0" stroke="#000" stroke-width="4.0"/>
<line x1="503.3" y1="1171.5" x2="503.3" y2="1181.0" stroke="#000" stroke-width="4.0"/>
<line x1="613.3" y1="1171.5" x2="613.3" y2="1191.0" stroke="#000" stroke-width="4.0"/>
<line x1="723.3" y1="1171.5" x2="723.3" y2="1181.0" stroke="#000" stroke-width="4.0"/>
<line x1="833.3" y1="1171.5" x2="833.3" y2="1191.0" stroke="#000" stroke-width="4.0"/>
<line x1="943.4" y1="1171.5" x2="943.4" y2="1181.0" stroke="#000" stroke-width="4.0"/>
<line x1="1053.4" y1="1171.5" x2="1053.4" y2="1191.0" stroke="#000" stroke-width="4.0"/>
<line x1="1163.4" y1="1171.5" x2="1163.4" y2="1181.0" stroke="#000" stroke-width="4.0"/>
<line x1="1273.5" y1="1171.5" x2="1273.5" y2="1191.0" stroke="#000" stroke-width="4.0"/>
<line x1="1383.5" y1="1171.5" x2="1383.5" y2="1181.0" stroke="#000" stroke-width="4.0"/>
<line x1="1493.5" y1="1171.5" x2="1493.5" y2="1191.0" stroke="#000" stroke-width="4.0"/>
<line x1="1603.5" y1="1171.5" x2="1603.5" y2="1181.0" stroke="#000" stroke-width="4.0"/>
<line x1="1713.5" y1="1171.5" x2="1713.5" y2="1191.0" stroke="#000" stroke-width="4.0"/>
<text x="0" y="0" font-size="45.5" transform="translate(117.36 1188.10) scale(0.9430 1)">0</text>
<text x="0" y="0" font-size="45.5" transform="translate(95.91 960.40) scale(0.9430 1)">20</text>
<text x="0" y="0" font-size="45.5" transform="translate(95.91 732.70) scale(0.9430 1)">40</text>
<text x="0" y="0" font-size="45.5" transform="translate(95.91 505.00) scale(0.9430 1)">60</text>
<text x="0" y="0" font-size="45.5" transform="translate(95.91 277.30) scale(0.9430 1)">80</text>
<text x="0" y="0" font-size="45.5" transform="translate(74.46 49.60) scale(0.9430 1)">100</text>
<text x="0" y="0" font-size="50" transform="translate(121.84 1227.00) scale(0.9560 1)">4</text>
<text x="0" y="0" font-size="50" transform="translate(168.89 1227.00) scale(0.9560 1)">000</text>
<text x="0" y="0" font-size="50" transform="translate(332.85 1228.20) scale(0.9560 1)">3</text>
<text x="0" y="0" font-size="50" transform="translate(380.63 1228.20) scale(0.9560 1)">500</text>
<text x="0" y="0" font-size="50" transform="translate(548.45 1230.30) scale(0.9560 1)">3</text>
<text x="0" y="0" font-size="50" transform="translate(596.69 1230.30) scale(0.9560 1)">000</text>
<text x="0" y="0" font-size="50" transform="translate(768.65 1230.60) scale(0.9560 1)">2</text>
<text x="0" y="0" font-size="50" transform="translate(815.73 1230.60) scale(0.9560 1)">500</text>
<text x="0" y="0" font-size="50" transform="translate(986.55 1230.80) scale(0.9560 1)">2</text>
<text x="0" y="0" font-size="50" transform="translate(1034.99 1230.80) scale(0.9560 1)">000</text>
<text x="0" y="0" font-size="50" transform="translate(1213.84 1229.70) scale(0.9560 1)">1</text>
<text x="0" y="0" font-size="50" transform="translate(1261.63 1229.70) scale(0.9560 1)">500</text>
<text x="0" y="0" font-size="50" transform="translate(1428.34 1228.20) scale(0.9560 1)">1</text>
<text x="0" y="0" font-size="50" transform="translate(1476.39 1228.20) scale(0.9560 1)">000</text>
<text x="0" y="0" font-size="50" transform="translate(1680.73 1225.80) scale(0.9560 1)">500</text>
<text x="0" y="0" font-size="53.4" transform="translate(60.4 779.07) rotate(-90)">Transmittance (%)</text>
<text x="752.40" y="1314.50" font-size="53.3">wavenumber (cm</text>
<text x="1120.20" y="1293.20" font-size="38">−1</text>
<text x="1160.50" y="1314.50" font-size="53.3">)</text>
<line x1="809" y1="770.0" x2="917" y2="770.0" stroke="#000000" stroke-width="4.4" stroke-linecap="round"/>
<text x="925.93" y="790.70" font-size="53.5">400 rpm</text>
<line x1="809" y1="828.4" x2="917" y2="828.4" stroke="#ff00ff" stroke-width="4.4" stroke-linecap="round"/>
<text x="927.36" y="847.70" font-size="53.5">600 rpm</text>
<line x1="809" y1="886.4" x2="917" y2="886.4" stroke="#00ff00" stroke-width="4.4" stroke-linecap="round"/>
<text x="933.06" y="909.90" font-size="53.5">800 rpm</text>
<line x1="809" y1="945.3" x2="917" y2="945.3" stroke="#0000ff" stroke-width="4.4" stroke-linecap="round"/>
<text x="937.47" y="963.80" font-size="53.3">1000 rpm</text>
<line x1="809" y1="1003.3" x2="917" y2="1003.3" stroke="#000080" stroke-width="4.4" stroke-linecap="round"/>
<text x="931.79" y="1019.90" font-size="54.0">Shellac</text>
<line x1="809" y1="1061.3" x2="917" y2="1061.3" stroke="#ff0000" stroke-width="4.4" stroke-linecap="round"/>
<text x="934.20" y="1075.80" font-size="48.0">Waterborne primer</text>
<line x1="809" y1="1121.8" x2="917" y2="1121.8" stroke="#f4a460" stroke-width="4.4" stroke-linecap="round"/>
<text x="942.50" y="1140.40" font-size="53.2">MF resin</text>
<line x1="464.5" y1="840.0" x2="464.5" y2="774.5" stroke="#000" stroke-width="2.2"/><polygon points="464.5,747.5 471.7,776.5 457.3,776.5" fill="#000"/>
<line x1="423.7" y1="1077.3" x2="423.7" y2="1010.3" stroke="#000" stroke-width="2.2"/><polygon points="423.7,983.3 430.9,1012.3 416.5,1012.3" fill="#000"/>
<line x1="638.6" y1="981.0" x2="638.6" y2="1091.7" stroke="#000" stroke-width="2.2"/><polygon points="638.6,1118.7 631.4,1089.7 645.8,1089.7" fill="#000"/>
<line x1="1088.8" y1="441.2" x2="1154.0" y2="396.5" stroke="#000" stroke-width="2.2"/><polygon points="1176.2,381.2 1156.4,403.6 1148.3,391.7" fill="#000"/>
<line x1="1308.8" y1="425.0" x2="1308.8" y2="398.0" stroke="#000" stroke-width="2.2"/><polygon points="1308.8,371.0 1316.0,400.0 1301.5,400.0" fill="#000"/>
<line x1="1616.5" y1="625.0" x2="1616.5" y2="450.5" stroke="#000" stroke-width="2.2"/><polygon points="1616.5,423.5 1623.7,452.5 1609.3,452.5" fill="#000"/>
<line x1="1238.4" y1="1138.7" x2="1223.0" y2="1143.7" stroke="#000" stroke-width="2.2"/><polygon points="1197.3,1152.1 1222.6,1136.3 1227.1,1150.0" fill="#000"/>
<text x="411.34" y="881.60" font-size="52.5">3343</text>
<text x="377.75" y="1127.20" font-size="52.3">3383</text>
<text x="588.13" y="939.80" font-size="52.7">2930</text>
<text x="0" y="0" font-size="48.5" transform="translate(1053.58 488.20) scale(0.9750 1)">1726</text>
<text x="0" y="0" font-size="48.0" transform="translate(1291.52 478.00) scale(0.9750 1)">1447</text>
<text x="0" y="0" font-size="49.4" transform="translate(1578.70 673.20) scale(0.9620 1)">875</text>
<text x="0" y="0" font-size="49.4" transform="translate(1270.26 1147.50) scale(0.9630 1)">1750</text>
</svg></body></html>
